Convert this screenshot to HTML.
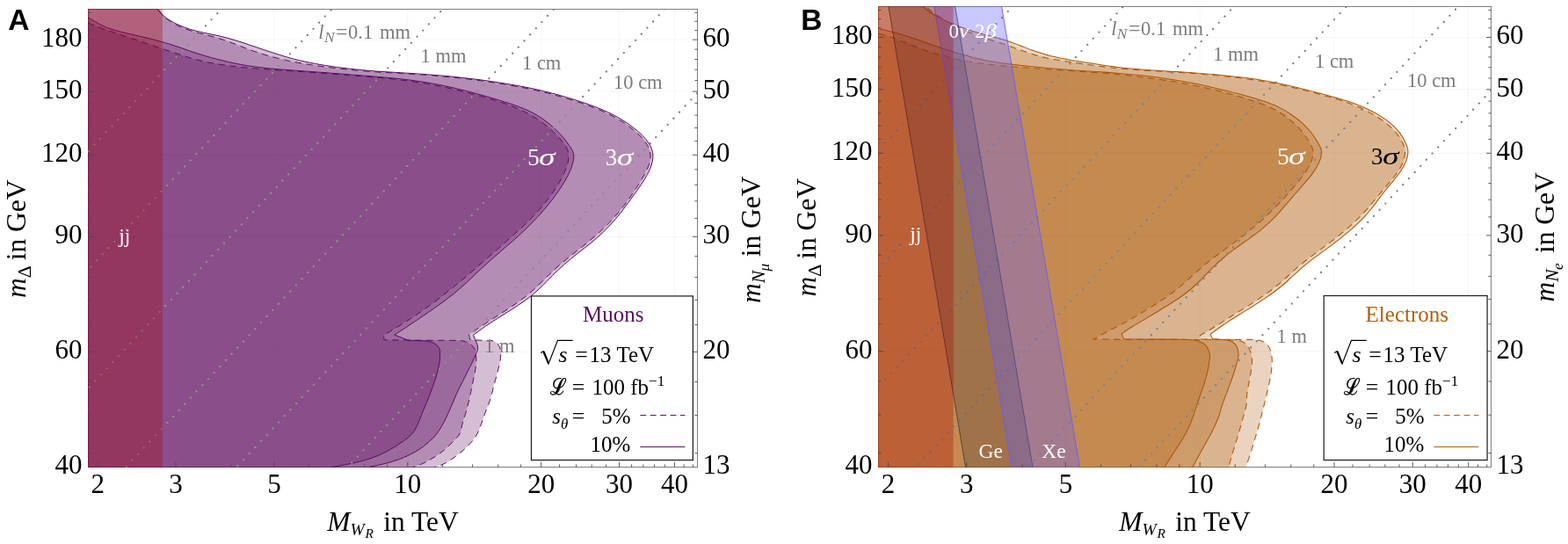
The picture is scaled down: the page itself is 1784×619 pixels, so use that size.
<!DOCTYPE html>
<html lang="en">
<head>
<meta charset="utf-8">
<title>Discovery reach: muons and electrons</title>
<style>
html,body{margin:0;padding:0;background:#fff;}
body{width:1784px;height:619px;overflow:hidden;}
svg{display:block;}
text{font-family:"Liberation Serif","DejaVu Serif",serif;font-size:31px;fill:#000;}
.pl{font-family:"Liberation Sans","DejaVu Sans",sans-serif;font-weight:bold;font-size:33.5px;}
.i{font-style:italic;}
.al{font-size:31.5px;}
.g{fill:#7c7c7c;font-size:22.5px;}
.w{fill:#fff;font-size:27px;}
.ws{fill:#fff;font-size:23.5px;}
.lg{font-size:25px;}
</style>
</head>
<body>
<svg width="1784" height="619" viewBox="0 0 1784 619">
<rect x="0" y="0" width="1784" height="619" fill="#fff"/>
<g id="panelA">
<clipPath id="clipA"><rect x="100" y="10" width="694" height="522"/></clipPath>
<path d="M311.9 10.5V531.5M463.8 10.5V531.5M615.7 10.5V531.5M704.5 10.5V531.5M767.5 10.5V531.5M100.5 400.4H793.5M100.5 269.3H793.5M100.5 176.3H793.5M100.5 104.1H793.5M100.5 45.2H793.5" stroke="#f6f6f6" stroke-width="1" fill="none"/>
<rect x="100.5" y="10.5" width="693" height="521" fill="none" stroke="#808080" stroke-width="1"/>
<g clip-path="url(#clipA)">
<path d="M173 0C175.1 3.7 177.2 7.4 179.8 10.7C182.4 14.2 185.3 17.5 188.6 20.4C192.6 23.8 197.1 26.5 201.8 28.9C206.5 31.4 211.6 33.1 216.6 34.8C221.4 36.4 226.3 37.5 231.2 38.8C236 40.1 240.8 41.2 245.6 42.6C250.5 44 255.4 45.6 260.3 47.4C265.2 49.1 270 51.2 274.9 53C279.8 54.9 284.6 56.8 289.5 58.5C294.3 60.1 299.1 61.7 304 63.1C308.8 64.5 313.7 65.7 318.6 66.9C323.4 68.1 328.3 69.2 333.2 70.1C338 71.1 342.9 72 347.8 72.8C354.9 74 362 75 369.1 76C378.8 77.3 388.6 78.4 398.3 79.4C408 80.4 417.7 81.1 427.4 81.8C437.1 82.5 446.9 82.9 456.6 83.5C466.3 84.1 476 84.7 485.7 85.4C495.4 86.2 505.2 87 514.9 88C524.6 89 534.3 90.1 544 91.4C553.8 92.7 563.5 94.2 573.2 95.8C582.2 97.3 591.1 98.8 600 100.7C606.2 101.9 612.3 103.3 618.3 104.7C628.1 107.1 637.7 109.8 647.3 112.8C657.2 115.8 667 119 676.6 122.8C681.6 124.8 686.5 126.8 691.3 129.2C696.3 131.6 701.1 134.2 705.8 137.1C710.8 140.2 715.7 143.5 720.2 147.3C724.7 151 729.2 154.9 732.7 159.5C734.7 162.2 736.7 164.9 738 168C739 170.5 739.8 173.2 740 176C740.2 178.4 739.9 180.9 739.5 183.3C738.9 186.4 737.6 189.4 736.4 192.3C734.7 196.1 732.6 199.7 730.5 203.3C727.9 207.9 725.1 212.3 722.2 216.6C718.2 222.8 713.9 228.8 709.4 234.6C704.3 241.1 699 247.3 693.3 253.3C688.6 258.1 683.7 262.7 678.7 267.2C673.9 271.4 668.9 275.5 664 279.5C659.2 283.4 654.2 287.1 649.4 291C644.6 294.9 639.7 298.8 635 303C630.1 307.3 625.5 311.9 620.8 316.4C617.4 319.7 614.2 323.1 610.8 326.3C606.3 330.5 601.6 334.6 596.8 338.3C592.1 342 587.2 345.4 582.3 348.7C577.5 352 572.5 355 567.6 358.2C562.8 361.3 557.9 364.4 553 367.6C548.6 370.5 544.3 373.4 539.9 376.3C537.7 377.8 535.6 379.2 533.4 380.7L535 386.8C539.3 386.9 543.7 387.1 548 387.2C550.7 387.3 553.3 387.2 556 387.4C557.4 387.5 558.9 387.4 560.3 387.8C562.4 388.4 564.6 389.4 566.1 391C567.6 392.6 568.4 394.8 569.1 396.9C570.1 400.1 569.7 403.7 569.5 407.1C569.2 412.5 567.4 417.8 566.1 423.1C564.8 428.5 563.2 433.8 561.8 439.1C560.5 444 559.6 448.9 558.1 453.7C556.6 458.6 554.4 463.3 552.6 468.1C550.8 472.9 549.4 477.9 547.5 482.7C545.5 487.7 543.8 492.8 540.9 497.3C538.5 501 535.3 504.3 532.2 507.5C528.6 511.2 524.6 514.5 520.5 517.7C517.2 520.3 513.9 522.8 510.3 524.9C507.5 526.5 504.6 528.1 501.6 529.3C499.2 530.2 496.8 530.9 494.3 531.5L494.3 560L80.5 560L80.5 -9.5L163 -9.5L173 0Z" fill="#550055" fill-opacity="0.255"/>
<path d="M172 0C174.1 3.6 176.2 7.2 178.9 10.5C181.5 13.7 184.4 16.7 187.7 19.3C191.9 22.8 196.9 25.4 201.9 27.8C206.6 30.1 211.6 31.8 216.6 33.4C221.4 34.9 226.3 36 231.2 37.1C236 38.2 240.9 39 245.7 40.1C250.5 41.2 255.4 42.3 260.2 43.6C265.2 45 270.1 46.6 275 48.1C279.8 49.7 284.7 51.4 289.5 53C294.3 54.7 299.1 56.3 304 57.9C308.8 59.5 313.7 61.1 318.6 62.6C323.4 64.1 328.3 65.6 333.2 66.9C338 68.1 342.9 69.3 347.8 70.3C354.8 71.8 362 73.1 369.1 74.3C378.8 75.9 388.5 77.2 398.3 78.3C408 79.4 417.7 80.2 427.4 81C437.1 81.7 446.9 82.2 456.6 82.8C466.3 83.4 476 83.9 485.7 84.7C495.4 85.4 505.2 86.2 514.9 87.2C524.6 88.2 534.3 89.3 544 90.5C553.8 91.8 563.5 93.2 573.2 94.8C582.2 96.3 591.1 97.8 600 99.6C606.2 100.8 612.3 102.1 618.3 103.6C628.1 105.9 637.7 108.5 647.3 111.5C657.2 114.5 667 117.6 676.6 121.3C681.6 123.3 686.5 125.2 691.3 127.5C696.2 129.8 701.1 132.3 705.8 135.1C710.8 138.1 715.7 141.3 720.2 144.9C725.5 149.1 730.8 153.3 734.9 158.6C737.1 161.4 739.3 164.3 740.7 167.6C741.8 170.2 742.7 173.1 742.9 176C743.1 178.4 742.8 180.9 742.4 183.3C741.8 186.6 740.6 189.7 739.3 192.8C737.7 196.6 735.5 200.2 733.5 203.7C730.8 208.2 727.7 212.5 724.8 216.8C721.6 221.4 718.3 225.9 715 230.4C710.1 237 705.2 243.6 699.9 249.8C695.5 254.8 690.9 259.7 686.1 264.3C681.4 268.9 676.3 273.1 671.3 277.3C666.5 281.2 661.5 284.9 656.6 288.8C651.8 292.7 646.9 296.5 642.2 300.6C637.5 304.8 632.9 309.3 628.4 313.7C624.8 317.3 621.5 321.1 617.8 324.6C613.4 328.9 608.8 333.1 604 337C599.4 340.7 594.5 344 589.6 347.3C584.8 350.6 579.8 353.5 574.9 356.7C570 359.8 565.1 362.8 560.3 366C555.4 369.2 550.6 372.4 545.9 375.8C543.4 377.6 540.9 379.5 538.5 381.4L542.1 389.6C542.9 392 543.8 394.4 543.6 396.9C543.4 399.2 542.2 401.3 541.4 403.4C539.4 408.7 536.6 413.6 534.1 418.7C531.7 423.6 529.2 428.4 526.8 433.3C524.4 438.2 521.8 443 519.5 447.9C516.2 455 513.6 462.5 510.3 469.6C508 474.5 505.7 479.4 503 484.1C500.8 487.9 498.5 491.7 495.7 495.1C493.5 497.7 491 500.1 488.5 502.4C484 506.5 479.1 510.1 473.9 513.3C469.3 516.1 464.3 518.5 459.3 520.6C454.5 522.6 449.6 524.2 444.7 525.7C439.9 527.1 435.1 528.2 430.2 529.3C426.8 530.1 423.4 530.8 420 531.5L420 560L80.5 560L80.5 -9.5L162 -9.5L172 0Z" fill="#550055" fill-opacity="0.255"/>
<path d="M80.5 18.1C87 20.8 93.5 23.5 100 26.1C104.9 28 109.8 30 114.7 31.8C119.5 33.5 124.3 35.2 129.1 36.8C133.9 38.4 138.8 39.9 143.6 41.6C148.5 43.2 153.4 44.8 158.3 46.5C163.2 48.2 168 49.9 172.9 51.5C177.7 53.1 182.6 54.8 187.4 56.4C192.2 58 197.1 59.6 202 61.2C206.8 62.8 211.7 64.4 216.6 65.9C221.5 67.3 226.3 68.6 231.2 69.8C236 70.9 240.8 71.8 245.7 72.6C250.5 73.4 255.4 74.1 260.3 74.7C265.2 75.4 270 75.9 274.9 76.4C279.8 77 284.6 77.4 289.5 77.9C294.3 78.3 299.2 78.7 304 79C308.9 79.4 313.7 79.7 318.6 80C325.7 80.5 332.9 80.9 340 81.3C349.7 82 359.4 82.7 369.1 83.4C378.8 84.2 388.6 84.9 398.3 85.7C408 86.5 417.7 87.2 427.4 88.1C437.1 89 446.9 89.8 456.6 91C466.3 92.2 476 93.6 485.7 95.2C495.5 97 505.2 99 514.9 101.2C524.6 103.5 534.4 106 544 108.6C549.4 110.1 554.7 111.6 560.1 113.2C564.9 114.7 569.8 116.1 574.6 117.8C579.5 119.6 584.4 121.4 589.1 123.5C594.1 125.7 599 128.1 603.8 130.8C608.8 133.7 613.7 136.9 618.3 140.4C623.4 144.2 628.2 148.5 632.6 153C636 156.5 639.4 160 642.1 164.1C643.3 165.8 644.5 167.6 645.3 169.6C646.2 171.6 646.7 173.8 647 176C647.2 179 646.7 181.9 646.2 184.8C645.4 188.6 643.8 192.2 642.4 195.7C640.5 200 638.3 204.1 635.9 208.2C633.6 212.2 631.2 216 628.5 219.8C625.8 223.8 622.9 227.7 619.8 231.4C617 234.9 614 238.3 611 241.6C607 245.9 602.8 249.9 598.6 254C593.8 258.7 588.8 263.2 583.8 267.7C579 272.1 574.2 276.3 569.4 280.6C564.5 284.9 559.7 289.1 554.8 293.4C549.9 297.7 545 302 540.1 306.3C535.3 310.5 530.5 314.7 525.6 318.8C522.6 321.2 519.7 323.7 516.7 326.1C511.8 330 506.9 333.9 502 337.7C497.2 341.4 492.3 345.1 487.4 348.6C482.6 352.1 477.8 355.5 472.9 358.8C468.1 362 463.2 365.2 458.3 368.2C453.5 371.2 448.6 374.2 443.7 377.1C441.3 378.5 438.8 380 436.4 381.4L437.2 386.8C448.1 386.9 459.1 387 470 387.1C480 387.2 490 387.2 500 387.3C506 387.3 512 387.2 518 387.4C520.9 387.5 523.9 387.2 526.8 387.9C529.9 388.6 533 389.8 535.5 391.8C537.2 393.2 538.9 394.9 539.9 396.9C540.8 398.7 541 400.7 541.4 402.7C542.4 407.9 541.6 413.4 541.1 418.7C540.5 424.6 538.9 430.4 537.7 436.2C536.5 442 535.4 447.9 534.1 453.7C532.9 459 531.5 464.3 530 469.6C528.6 474.5 526.7 479.2 525.6 484.1C525 486.5 525.1 489.1 524.2 491.4C522.5 496.1 518.1 499.4 514.7 503.1C511.1 507 507.2 510.7 503 514C498.5 517.6 493.5 520.7 488.5 523.5C485.2 525.4 481.8 527.2 478.3 528.6C475.4 529.8 472.5 530.6 469.5 531.5L469.5 560L80.5 560L80.5 18.1Z" fill="#550055" fill-opacity="0.255"/>
<path d="M80.5 11.6C87.2 13.9 93.8 16.2 100 19.6C102.5 21 104.8 22.6 107.2 24C109.7 25.5 112.1 26.9 114.7 28.2C117 29.4 119.4 30.5 121.9 31.5C124.2 32.4 126.7 33.2 129.1 33.9C133.9 35.4 138.8 36.5 143.7 37.7C148.6 38.9 153.4 40 158.3 41.1C163.2 42.3 168.1 43.4 172.9 44.6C177.7 45.8 182.6 47.1 187.4 48.5C192.3 49.9 197.1 51.5 202 53.1C206.9 54.8 211.7 56.5 216.6 58.2C221.5 59.8 226.3 61.4 231.2 62.9C236 64.4 240.8 65.7 245.7 67C250.5 68.3 255.4 69.5 260.3 70.6C265.1 71.7 270 72.7 274.9 73.6C279.7 74.5 284.6 75.3 289.5 75.9C294.3 76.6 299.2 77.2 304 77.7C308.9 78.2 313.7 78.5 318.6 78.9C325.7 79.5 332.9 79.9 340 80.5C349.7 81.2 359.4 81.9 369.1 82.6C378.8 83.4 388.6 84.2 398.3 84.9C408 85.7 417.7 86.4 427.4 87.2C437.1 88 446.9 88.8 456.6 89.9C466.3 91 476 92.3 485.7 93.9C495.5 95.5 505.2 97.5 514.9 99.7C524.6 101.9 534.3 104.4 544 107.1C549.3 108.5 554.7 110.1 560.1 111.7C564.9 113.1 569.8 114.6 574.6 116.1C579.5 117.6 584.3 119.1 589.1 120.9C594.1 122.8 599 124.8 603.8 127.2C608.8 129.7 613.6 132.6 618.2 135.8C623.4 139.4 628.2 143.5 632.7 147.8C635.9 150.9 639 154.2 641.8 157.7C643.9 160.2 645.8 162.7 647.6 165.4C649.1 167.7 650.9 169.9 651.8 172.5C652.2 173.9 652.6 175.4 652.8 176.8C653.1 179.5 652.4 182.2 651.9 184.8C651.2 187.8 650.1 190.7 649 193.5C647.4 197.6 645.3 201.4 643.1 205.2C640.9 209.2 638.4 213 635.8 216.8C633.1 220.8 630.1 224.8 627.2 228.6C624.3 232.3 621.3 235.9 618.3 239.4C614.2 244.1 610 248.7 605.6 253.1C601 258 596.2 262.6 591.2 267.1C586.4 271.6 581.5 275.8 576.5 280.1C571.7 284.3 566.8 288.4 562 292.6C557.2 296.8 552.5 301.1 547.8 305.4C542.1 310.7 536.6 316.2 530.9 321.4C526.2 325.7 521.5 329.9 516.6 333.9C511.8 337.8 507 341.4 502 345.1C497.3 348.6 492.4 351.9 487.5 355.3C482.6 358.7 477.8 362 472.8 365.3C468 368.6 463.2 371.8 458.3 374.9C455.1 377 452 379 448.8 381L461 385.8C462 386.2 463 386.6 464.1 386.8C465.4 387.1 466.7 387.2 468 387.3C471.3 387.6 474.7 387.5 478 387.7C481.1 387.9 484.3 387.6 487.4 388.3C489.9 388.9 492.5 389.6 494.7 391C496.5 392.2 498.3 393.6 499.4 395.4C500.9 397.9 500.5 401.2 500.6 404.1C500.8 408.5 499.9 412.9 499.1 417.3C498.1 422.7 496.4 428 494.7 433.3C493 438.7 490.9 444 488.9 449.3C486.5 455.6 483.8 461.8 481.2 468.1C479.2 473 477.6 478 475.3 482.7C473.6 486.2 472 489.9 469.5 492.9C466.7 496.4 462.9 498.9 459.3 501.6C454.7 505.1 449.7 508.2 444.7 511.1C440 513.8 435.2 516.3 430.2 518.4C425.5 520.4 420.5 522 415.6 523.5C410.8 524.9 405.9 526 401 527.1C396.2 528.2 391.3 529.2 386.4 530.1C383.5 530.6 380.6 531.1 377.7 531.5L377.7 560L80.5 560L80.5 11.6Z" fill="#550055" fill-opacity="0.255"/>
<path d="M173 0C175.1 3.7 177.2 7.4 179.8 10.7C182.4 14.2 185.3 17.5 188.6 20.4C192.6 23.8 197.1 26.5 201.8 28.9C206.5 31.4 211.6 33.1 216.6 34.8C221.4 36.4 226.3 37.5 231.2 38.8C236 40.1 240.8 41.2 245.6 42.6C250.5 44 255.4 45.6 260.3 47.4C265.2 49.1 270 51.2 274.9 53C279.8 54.9 284.6 56.8 289.5 58.5C294.3 60.1 299.1 61.7 304 63.1C308.8 64.5 313.7 65.7 318.6 66.9C323.4 68.1 328.3 69.2 333.2 70.1C338 71.1 342.9 72 347.8 72.8C354.9 74 362 75 369.1 76C378.8 77.3 388.6 78.4 398.3 79.4C408 80.4 417.7 81.1 427.4 81.8C437.1 82.5 446.9 82.9 456.6 83.5C466.3 84.1 476 84.7 485.7 85.4C495.4 86.2 505.2 87 514.9 88C524.6 89 534.3 90.1 544 91.4C553.8 92.7 563.5 94.2 573.2 95.8C582.2 97.3 591.1 98.8 600 100.7C606.2 101.9 612.3 103.3 618.3 104.7C628.1 107.1 637.7 109.8 647.3 112.8C657.2 115.8 667 119 676.6 122.8C681.6 124.8 686.5 126.8 691.3 129.2C696.3 131.6 701.1 134.2 705.8 137.1C710.8 140.2 715.7 143.5 720.2 147.3C724.7 151 729.2 154.9 732.7 159.5C734.7 162.2 736.7 164.9 738 168C739 170.5 739.8 173.2 740 176C740.2 178.4 739.9 180.9 739.5 183.3C738.9 186.4 737.6 189.4 736.4 192.3C734.7 196.1 732.6 199.7 730.5 203.3C727.9 207.9 725.1 212.3 722.2 216.6C718.2 222.8 713.9 228.8 709.4 234.6C704.3 241.1 699 247.3 693.3 253.3C688.6 258.1 683.7 262.7 678.7 267.2C673.9 271.4 668.9 275.5 664 279.5C659.2 283.4 654.2 287.1 649.4 291C644.6 294.9 639.7 298.8 635 303C630.1 307.3 625.5 311.9 620.8 316.4C617.4 319.7 614.2 323.1 610.8 326.3C606.3 330.5 601.6 334.6 596.8 338.3C592.1 342 587.2 345.4 582.3 348.7C577.5 352 572.5 355 567.6 358.2C562.8 361.3 557.9 364.4 553 367.6C548.6 370.5 544.3 373.4 539.9 376.3C537.7 377.8 535.6 379.2 533.4 380.7L535 386.8C539.3 386.9 543.7 387.1 548 387.2C550.7 387.3 553.3 387.2 556 387.4C557.4 387.5 558.9 387.4 560.3 387.8C562.4 388.4 564.6 389.4 566.1 391C567.6 392.6 568.4 394.8 569.1 396.9C570.1 400.1 569.7 403.7 569.5 407.1C569.2 412.5 567.4 417.8 566.1 423.1C564.8 428.5 563.2 433.8 561.8 439.1C560.5 444 559.6 448.9 558.1 453.7C556.6 458.6 554.4 463.3 552.6 468.1C550.8 472.9 549.4 477.9 547.5 482.7C545.5 487.7 543.8 492.8 540.9 497.3C538.5 501 535.3 504.3 532.2 507.5C528.6 511.2 524.6 514.5 520.5 517.7C517.2 520.3 513.9 522.8 510.3 524.9C507.5 526.5 504.6 528.1 501.6 529.3C499.2 530.2 496.8 530.9 494.3 531.5" fill="none" stroke="#5a0c62" stroke-width="1.0" stroke-dasharray="7.5 5.5"/>
<path d="M172 0C174.1 3.6 176.2 7.2 178.9 10.5C181.5 13.7 184.4 16.7 187.7 19.3C191.9 22.8 196.9 25.4 201.9 27.8C206.6 30.1 211.6 31.8 216.6 33.4C221.4 34.9 226.3 36 231.2 37.1C236 38.2 240.9 39 245.7 40.1C250.5 41.2 255.4 42.3 260.2 43.6C265.2 45 270.1 46.6 275 48.1C279.8 49.7 284.7 51.4 289.5 53C294.3 54.7 299.1 56.3 304 57.9C308.8 59.5 313.7 61.1 318.6 62.6C323.4 64.1 328.3 65.6 333.2 66.9C338 68.1 342.9 69.3 347.8 70.3C354.8 71.8 362 73.1 369.1 74.3C378.8 75.9 388.5 77.2 398.3 78.3C408 79.4 417.7 80.2 427.4 81C437.1 81.7 446.9 82.2 456.6 82.8C466.3 83.4 476 83.9 485.7 84.7C495.4 85.4 505.2 86.2 514.9 87.2C524.6 88.2 534.3 89.3 544 90.5C553.8 91.8 563.5 93.2 573.2 94.8C582.2 96.3 591.1 97.8 600 99.6C606.2 100.8 612.3 102.1 618.3 103.6C628.1 105.9 637.7 108.5 647.3 111.5C657.2 114.5 667 117.6 676.6 121.3C681.6 123.3 686.5 125.2 691.3 127.5C696.2 129.8 701.1 132.3 705.8 135.1C710.8 138.1 715.7 141.3 720.2 144.9C725.5 149.1 730.8 153.3 734.9 158.6C737.1 161.4 739.3 164.3 740.7 167.6C741.8 170.2 742.7 173.1 742.9 176C743.1 178.4 742.8 180.9 742.4 183.3C741.8 186.6 740.6 189.7 739.3 192.8C737.7 196.6 735.5 200.2 733.5 203.7C730.8 208.2 727.7 212.5 724.8 216.8C721.6 221.4 718.3 225.9 715 230.4C710.1 237 705.2 243.6 699.9 249.8C695.5 254.8 690.9 259.7 686.1 264.3C681.4 268.9 676.3 273.1 671.3 277.3C666.5 281.2 661.5 284.9 656.6 288.8C651.8 292.7 646.9 296.5 642.2 300.6C637.5 304.8 632.9 309.3 628.4 313.7C624.8 317.3 621.5 321.1 617.8 324.6C613.4 328.9 608.8 333.1 604 337C599.4 340.7 594.5 344 589.6 347.3C584.8 350.6 579.8 353.5 574.9 356.7C570 359.8 565.1 362.8 560.3 366C555.4 369.2 550.6 372.4 545.9 375.8C543.4 377.6 540.9 379.5 538.5 381.4L542.1 389.6C542.9 392 543.8 394.4 543.6 396.9C543.4 399.2 542.2 401.3 541.4 403.4C539.4 408.7 536.6 413.6 534.1 418.7C531.7 423.6 529.2 428.4 526.8 433.3C524.4 438.2 521.8 443 519.5 447.9C516.2 455 513.6 462.5 510.3 469.6C508 474.5 505.7 479.4 503 484.1C500.8 487.9 498.5 491.7 495.7 495.1C493.5 497.7 491 500.1 488.5 502.4C484 506.5 479.1 510.1 473.9 513.3C469.3 516.1 464.3 518.5 459.3 520.6C454.5 522.6 449.6 524.2 444.7 525.7C439.9 527.1 435.1 528.2 430.2 529.3C426.8 530.1 423.4 530.8 420 531.5" fill="none" stroke="#5a0c62" stroke-width="1.0"/>
<path d="M100 26.1C104.9 28 109.8 30 114.7 31.8C119.5 33.5 124.3 35.2 129.1 36.8C133.9 38.4 138.8 39.9 143.6 41.6C148.5 43.2 153.4 44.8 158.3 46.5C163.2 48.2 168 49.9 172.9 51.5C177.7 53.1 182.6 54.8 187.4 56.4C192.2 58 197.1 59.6 202 61.2C206.8 62.8 211.7 64.4 216.6 65.9C221.5 67.3 226.3 68.6 231.2 69.8C236 70.9 240.8 71.8 245.7 72.6C250.5 73.4 255.4 74.1 260.3 74.7C265.2 75.4 270 75.9 274.9 76.4C279.8 77 284.6 77.4 289.5 77.9C294.3 78.3 299.2 78.7 304 79C308.9 79.4 313.7 79.7 318.6 80C325.7 80.5 332.9 80.9 340 81.3C349.7 82 359.4 82.7 369.1 83.4C378.8 84.2 388.6 84.9 398.3 85.7C408 86.5 417.7 87.2 427.4 88.1C437.1 89 446.9 89.8 456.6 91C466.3 92.2 476 93.6 485.7 95.2C495.5 97 505.2 99 514.9 101.2C524.6 103.5 534.4 106 544 108.6C549.4 110.1 554.7 111.6 560.1 113.2C564.9 114.7 569.8 116.1 574.6 117.8C579.5 119.6 584.4 121.4 589.1 123.5C594.1 125.7 599 128.1 603.8 130.8C608.8 133.7 613.7 136.9 618.3 140.4C623.4 144.2 628.2 148.5 632.6 153C636 156.5 639.4 160 642.1 164.1C643.3 165.8 644.5 167.6 645.3 169.6C646.2 171.6 646.7 173.8 647 176C647.2 179 646.7 181.9 646.2 184.8C645.4 188.6 643.8 192.2 642.4 195.7C640.5 200 638.3 204.1 635.9 208.2C633.6 212.2 631.2 216 628.5 219.8C625.8 223.8 622.9 227.7 619.8 231.4C617 234.9 614 238.3 611 241.6C607 245.9 602.8 249.9 598.6 254C593.8 258.7 588.8 263.2 583.8 267.7C579 272.1 574.2 276.3 569.4 280.6C564.5 284.9 559.7 289.1 554.8 293.4C549.9 297.7 545 302 540.1 306.3C535.3 310.5 530.5 314.7 525.6 318.8C522.6 321.2 519.7 323.7 516.7 326.1C511.8 330 506.9 333.9 502 337.7C497.2 341.4 492.3 345.1 487.4 348.6C482.6 352.1 477.8 355.5 472.9 358.8C468.1 362 463.2 365.2 458.3 368.2C453.5 371.2 448.6 374.2 443.7 377.1C441.3 378.5 438.8 380 436.4 381.4L437.2 386.8C448.1 386.9 459.1 387 470 387.1C480 387.2 490 387.2 500 387.3C506 387.3 512 387.2 518 387.4C520.9 387.5 523.9 387.2 526.8 387.9C529.9 388.6 533 389.8 535.5 391.8C537.2 393.2 538.9 394.9 539.9 396.9C540.8 398.7 541 400.7 541.4 402.7C542.4 407.9 541.6 413.4 541.1 418.7C540.5 424.6 538.9 430.4 537.7 436.2C536.5 442 535.4 447.9 534.1 453.7C532.9 459 531.5 464.3 530 469.6C528.6 474.5 526.7 479.2 525.6 484.1C525 486.5 525.1 489.1 524.2 491.4C522.5 496.1 518.1 499.4 514.7 503.1C511.1 507 507.2 510.7 503 514C498.5 517.6 493.5 520.7 488.5 523.5C485.2 525.4 481.8 527.2 478.3 528.6C475.4 529.8 472.5 530.6 469.5 531.5" fill="none" stroke="#5a0c62" stroke-width="1.0" stroke-dasharray="7.5 5.5"/>
<path d="M100 19.6C102.4 21.1 104.8 22.6 107.2 24C109.7 25.5 112.1 26.9 114.7 28.2C117 29.4 119.4 30.5 121.9 31.5C124.2 32.4 126.7 33.2 129.1 33.9C133.9 35.4 138.8 36.5 143.7 37.7C148.6 38.9 153.4 40 158.3 41.1C163.2 42.3 168.1 43.4 172.9 44.6C177.7 45.8 182.6 47.1 187.4 48.5C192.3 49.9 197.1 51.5 202 53.1C206.9 54.8 211.7 56.5 216.6 58.2C221.5 59.8 226.3 61.4 231.2 62.9C236 64.4 240.8 65.7 245.7 67C250.5 68.3 255.4 69.5 260.3 70.6C265.1 71.7 270 72.7 274.9 73.6C279.7 74.5 284.6 75.3 289.5 75.9C294.3 76.6 299.2 77.2 304 77.7C308.9 78.2 313.7 78.5 318.6 78.9C325.7 79.5 332.9 79.9 340 80.5C349.7 81.2 359.4 81.9 369.1 82.6C378.8 83.4 388.6 84.2 398.3 84.9C408 85.7 417.7 86.4 427.4 87.2C437.1 88 446.9 88.8 456.6 89.9C466.3 91 476 92.3 485.7 93.9C495.5 95.5 505.2 97.5 514.9 99.7C524.6 101.9 534.3 104.4 544 107.1C549.3 108.5 554.7 110.1 560.1 111.7C564.9 113.1 569.8 114.6 574.6 116.1C579.5 117.6 584.3 119.1 589.1 120.9C594.1 122.8 599 124.8 603.8 127.2C608.8 129.7 613.6 132.6 618.2 135.8C623.4 139.4 628.2 143.5 632.7 147.8C635.9 150.9 639 154.2 641.8 157.7C643.9 160.2 645.8 162.7 647.6 165.4C649.1 167.7 650.9 169.9 651.8 172.5C652.2 173.9 652.6 175.4 652.8 176.8C653.1 179.5 652.4 182.2 651.9 184.8C651.2 187.8 650.1 190.7 649 193.5C647.4 197.6 645.3 201.4 643.1 205.2C640.9 209.2 638.4 213 635.8 216.8C633.1 220.8 630.1 224.8 627.2 228.6C624.3 232.3 621.3 235.9 618.3 239.4C614.2 244.1 610 248.7 605.6 253.1C601 258 596.2 262.6 591.2 267.1C586.4 271.6 581.5 275.8 576.5 280.1C571.7 284.3 566.8 288.4 562 292.6C557.2 296.8 552.5 301.1 547.8 305.4C542.1 310.7 536.6 316.2 530.9 321.4C526.2 325.7 521.5 329.9 516.6 333.9C511.8 337.8 507 341.4 502 345.1C497.3 348.6 492.4 351.9 487.5 355.3C482.6 358.7 477.8 362 472.8 365.3C468 368.6 463.2 371.8 458.3 374.9C455.1 377 452 379 448.8 381L461 385.8C462 386.2 463 386.6 464.1 386.8C465.4 387.1 466.7 387.2 468 387.3C471.3 387.6 474.7 387.5 478 387.7C481.1 387.9 484.3 387.6 487.4 388.3C489.9 388.9 492.5 389.6 494.7 391C496.5 392.2 498.3 393.6 499.4 395.4C500.9 397.9 500.5 401.2 500.6 404.1C500.8 408.5 499.9 412.9 499.1 417.3C498.1 422.7 496.4 428 494.7 433.3C493 438.7 490.9 444 488.9 449.3C486.5 455.6 483.8 461.8 481.2 468.1C479.2 473 477.6 478 475.3 482.7C473.6 486.2 472 489.9 469.5 492.9C466.7 496.4 462.9 498.9 459.3 501.6C454.7 505.1 449.7 508.2 444.7 511.1C440 513.8 435.2 516.3 430.2 518.4C425.5 520.4 420.5 522 415.6 523.5C410.8 524.9 405.9 526 401 527.1C396.2 528.2 391.3 529.2 386.4 530.1C383.5 530.6 380.6 531.1 377.7 531.5" fill="none" stroke="#5a0c62" stroke-width="1.0"/>
<path d="M267.27 -6.17L87.52 186.16M389.81 -2.75L83.58 324.93M521.17 -8.17L88.44 454.85M643.10 -3.36L130.49 545.14M769.75 -4.00L257.13 544.50M806.27 92.03L380.20 547.92" stroke="#7a7a7a" stroke-width="2.3" stroke-linecap="round" stroke-dasharray="0 9.75" fill="none"/>
<clipPath id="regA"><path d="M173 0C175.1 3.7 177.2 7.4 179.8 10.7C182.4 14.2 185.3 17.5 188.6 20.4C192.6 23.8 197.1 26.5 201.8 28.9C206.5 31.4 211.6 33.1 216.6 34.8C221.4 36.4 226.3 37.5 231.2 38.8C236 40.1 240.8 41.2 245.6 42.6C250.5 44 255.4 45.6 260.3 47.4C265.2 49.1 270 51.2 274.9 53C279.8 54.9 284.6 56.8 289.5 58.5C294.3 60.1 299.1 61.7 304 63.1C308.8 64.5 313.7 65.7 318.6 66.9C323.4 68.1 328.3 69.2 333.2 70.1C338 71.1 342.9 72 347.8 72.8C354.9 74 362 75 369.1 76C378.8 77.3 388.6 78.4 398.3 79.4C408 80.4 417.7 81.1 427.4 81.8C437.1 82.5 446.9 82.9 456.6 83.5C466.3 84.1 476 84.7 485.7 85.4C495.4 86.2 505.2 87 514.9 88C524.6 89 534.3 90.1 544 91.4C553.8 92.7 563.5 94.2 573.2 95.8C582.2 97.3 591.1 98.8 600 100.7C606.2 101.9 612.3 103.3 618.3 104.7C628.1 107.1 637.7 109.8 647.3 112.8C657.2 115.8 667 119 676.6 122.8C681.6 124.8 686.5 126.8 691.3 129.2C696.3 131.6 701.1 134.2 705.8 137.1C710.8 140.2 715.7 143.5 720.2 147.3C724.7 151 729.2 154.9 732.7 159.5C734.7 162.2 736.7 164.9 738 168C739 170.5 739.8 173.2 740 176C740.2 178.4 739.9 180.9 739.5 183.3C738.9 186.4 737.6 189.4 736.4 192.3C734.7 196.1 732.6 199.7 730.5 203.3C727.9 207.9 725.1 212.3 722.2 216.6C718.2 222.8 713.9 228.8 709.4 234.6C704.3 241.1 699 247.3 693.3 253.3C688.6 258.1 683.7 262.7 678.7 267.2C673.9 271.4 668.9 275.5 664 279.5C659.2 283.4 654.2 287.1 649.4 291C644.6 294.9 639.7 298.8 635 303C630.1 307.3 625.5 311.9 620.8 316.4C617.4 319.7 614.2 323.1 610.8 326.3C606.3 330.5 601.6 334.6 596.8 338.3C592.1 342 587.2 345.4 582.3 348.7C577.5 352 572.5 355 567.6 358.2C562.8 361.3 557.9 364.4 553 367.6C548.6 370.5 544.3 373.4 539.9 376.3C537.7 377.8 535.6 379.2 533.4 380.7L535 386.8C539.3 386.9 543.7 387.1 548 387.2C550.7 387.3 553.3 387.2 556 387.4C557.4 387.5 558.9 387.4 560.3 387.8C562.4 388.4 564.6 389.4 566.1 391C567.6 392.6 568.4 394.8 569.1 396.9C570.1 400.1 569.7 403.7 569.5 407.1C569.2 412.5 567.4 417.8 566.1 423.1C564.8 428.5 563.2 433.8 561.8 439.1C560.5 444 559.6 448.9 558.1 453.7C556.6 458.6 554.4 463.3 552.6 468.1C550.8 472.9 549.4 477.9 547.5 482.7C545.5 487.7 543.8 492.8 540.9 497.3C538.5 501 535.3 504.3 532.2 507.5C528.6 511.2 524.6 514.5 520.5 517.7C517.2 520.3 513.9 522.8 510.3 524.9C507.5 526.5 504.6 528.1 501.6 529.3C499.2 530.2 496.8 530.9 494.3 531.5L494.3 560L80.5 560L80.5 -9.5L163 -9.5L173 0Z"/><path d="M172 0C174.1 3.6 176.2 7.2 178.9 10.5C181.5 13.7 184.4 16.7 187.7 19.3C191.9 22.8 196.9 25.4 201.9 27.8C206.6 30.1 211.6 31.8 216.6 33.4C221.4 34.9 226.3 36 231.2 37.1C236 38.2 240.9 39 245.7 40.1C250.5 41.2 255.4 42.3 260.2 43.6C265.2 45 270.1 46.6 275 48.1C279.8 49.7 284.7 51.4 289.5 53C294.3 54.7 299.1 56.3 304 57.9C308.8 59.5 313.7 61.1 318.6 62.6C323.4 64.1 328.3 65.6 333.2 66.9C338 68.1 342.9 69.3 347.8 70.3C354.8 71.8 362 73.1 369.1 74.3C378.8 75.9 388.5 77.2 398.3 78.3C408 79.4 417.7 80.2 427.4 81C437.1 81.7 446.9 82.2 456.6 82.8C466.3 83.4 476 83.9 485.7 84.7C495.4 85.4 505.2 86.2 514.9 87.2C524.6 88.2 534.3 89.3 544 90.5C553.8 91.8 563.5 93.2 573.2 94.8C582.2 96.3 591.1 97.8 600 99.6C606.2 100.8 612.3 102.1 618.3 103.6C628.1 105.9 637.7 108.5 647.3 111.5C657.2 114.5 667 117.6 676.6 121.3C681.6 123.3 686.5 125.2 691.3 127.5C696.2 129.8 701.1 132.3 705.8 135.1C710.8 138.1 715.7 141.3 720.2 144.9C725.5 149.1 730.8 153.3 734.9 158.6C737.1 161.4 739.3 164.3 740.7 167.6C741.8 170.2 742.7 173.1 742.9 176C743.1 178.4 742.8 180.9 742.4 183.3C741.8 186.6 740.6 189.7 739.3 192.8C737.7 196.6 735.5 200.2 733.5 203.7C730.8 208.2 727.7 212.5 724.8 216.8C721.6 221.4 718.3 225.9 715 230.4C710.1 237 705.2 243.6 699.9 249.8C695.5 254.8 690.9 259.7 686.1 264.3C681.4 268.9 676.3 273.1 671.3 277.3C666.5 281.2 661.5 284.9 656.6 288.8C651.8 292.7 646.9 296.5 642.2 300.6C637.5 304.8 632.9 309.3 628.4 313.7C624.8 317.3 621.5 321.1 617.8 324.6C613.4 328.9 608.8 333.1 604 337C599.4 340.7 594.5 344 589.6 347.3C584.8 350.6 579.8 353.5 574.9 356.7C570 359.8 565.1 362.8 560.3 366C555.4 369.2 550.6 372.4 545.9 375.8C543.4 377.6 540.9 379.5 538.5 381.4L542.1 389.6C542.9 392 543.8 394.4 543.6 396.9C543.4 399.2 542.2 401.3 541.4 403.4C539.4 408.7 536.6 413.6 534.1 418.7C531.7 423.6 529.2 428.4 526.8 433.3C524.4 438.2 521.8 443 519.5 447.9C516.2 455 513.6 462.5 510.3 469.6C508 474.5 505.7 479.4 503 484.1C500.8 487.9 498.5 491.7 495.7 495.1C493.5 497.7 491 500.1 488.5 502.4C484 506.5 479.1 510.1 473.9 513.3C469.3 516.1 464.3 518.5 459.3 520.6C454.5 522.6 449.6 524.2 444.7 525.7C439.9 527.1 435.1 528.2 430.2 529.3C426.8 530.1 423.4 530.8 420 531.5L420 560L80.5 560L80.5 -9.5L162 -9.5L172 0Z"/><path d="M80.5 18.1C87 20.8 93.5 23.5 100 26.1C104.9 28 109.8 30 114.7 31.8C119.5 33.5 124.3 35.2 129.1 36.8C133.9 38.4 138.8 39.9 143.6 41.6C148.5 43.2 153.4 44.8 158.3 46.5C163.2 48.2 168 49.9 172.9 51.5C177.7 53.1 182.6 54.8 187.4 56.4C192.2 58 197.1 59.6 202 61.2C206.8 62.8 211.7 64.4 216.6 65.9C221.5 67.3 226.3 68.6 231.2 69.8C236 70.9 240.8 71.8 245.7 72.6C250.5 73.4 255.4 74.1 260.3 74.7C265.2 75.4 270 75.9 274.9 76.4C279.8 77 284.6 77.4 289.5 77.9C294.3 78.3 299.2 78.7 304 79C308.9 79.4 313.7 79.7 318.6 80C325.7 80.5 332.9 80.9 340 81.3C349.7 82 359.4 82.7 369.1 83.4C378.8 84.2 388.6 84.9 398.3 85.7C408 86.5 417.7 87.2 427.4 88.1C437.1 89 446.9 89.8 456.6 91C466.3 92.2 476 93.6 485.7 95.2C495.5 97 505.2 99 514.9 101.2C524.6 103.5 534.4 106 544 108.6C549.4 110.1 554.7 111.6 560.1 113.2C564.9 114.7 569.8 116.1 574.6 117.8C579.5 119.6 584.4 121.4 589.1 123.5C594.1 125.7 599 128.1 603.8 130.8C608.8 133.7 613.7 136.9 618.3 140.4C623.4 144.2 628.2 148.5 632.6 153C636 156.5 639.4 160 642.1 164.1C643.3 165.8 644.5 167.6 645.3 169.6C646.2 171.6 646.7 173.8 647 176C647.2 179 646.7 181.9 646.2 184.8C645.4 188.6 643.8 192.2 642.4 195.7C640.5 200 638.3 204.1 635.9 208.2C633.6 212.2 631.2 216 628.5 219.8C625.8 223.8 622.9 227.7 619.8 231.4C617 234.9 614 238.3 611 241.6C607 245.9 602.8 249.9 598.6 254C593.8 258.7 588.8 263.2 583.8 267.7C579 272.1 574.2 276.3 569.4 280.6C564.5 284.9 559.7 289.1 554.8 293.4C549.9 297.7 545 302 540.1 306.3C535.3 310.5 530.5 314.7 525.6 318.8C522.6 321.2 519.7 323.7 516.7 326.1C511.8 330 506.9 333.9 502 337.7C497.2 341.4 492.3 345.1 487.4 348.6C482.6 352.1 477.8 355.5 472.9 358.8C468.1 362 463.2 365.2 458.3 368.2C453.5 371.2 448.6 374.2 443.7 377.1C441.3 378.5 438.8 380 436.4 381.4L437.2 386.8C448.1 386.9 459.1 387 470 387.1C480 387.2 490 387.2 500 387.3C506 387.3 512 387.2 518 387.4C520.9 387.5 523.9 387.2 526.8 387.9C529.9 388.6 533 389.8 535.5 391.8C537.2 393.2 538.9 394.9 539.9 396.9C540.8 398.7 541 400.7 541.4 402.7C542.4 407.9 541.6 413.4 541.1 418.7C540.5 424.6 538.9 430.4 537.7 436.2C536.5 442 535.4 447.9 534.1 453.7C532.9 459 531.5 464.3 530 469.6C528.6 474.5 526.7 479.2 525.6 484.1C525 486.5 525.1 489.1 524.2 491.4C522.5 496.1 518.1 499.4 514.7 503.1C511.1 507 507.2 510.7 503 514C498.5 517.6 493.5 520.7 488.5 523.5C485.2 525.4 481.8 527.2 478.3 528.6C475.4 529.8 472.5 530.6 469.5 531.5L469.5 560L80.5 560L80.5 18.1Z"/><path d="M80.5 11.6C87.2 13.9 93.8 16.2 100 19.6C102.5 21 104.8 22.6 107.2 24C109.7 25.5 112.1 26.9 114.7 28.2C117 29.4 119.4 30.5 121.9 31.5C124.2 32.4 126.7 33.2 129.1 33.9C133.9 35.4 138.8 36.5 143.7 37.7C148.6 38.9 153.4 40 158.3 41.1C163.2 42.3 168.1 43.4 172.9 44.6C177.7 45.8 182.6 47.1 187.4 48.5C192.3 49.9 197.1 51.5 202 53.1C206.9 54.8 211.7 56.5 216.6 58.2C221.5 59.8 226.3 61.4 231.2 62.9C236 64.4 240.8 65.7 245.7 67C250.5 68.3 255.4 69.5 260.3 70.6C265.1 71.7 270 72.7 274.9 73.6C279.7 74.5 284.6 75.3 289.5 75.9C294.3 76.6 299.2 77.2 304 77.7C308.9 78.2 313.7 78.5 318.6 78.9C325.7 79.5 332.9 79.9 340 80.5C349.7 81.2 359.4 81.9 369.1 82.6C378.8 83.4 388.6 84.2 398.3 84.9C408 85.7 417.7 86.4 427.4 87.2C437.1 88 446.9 88.8 456.6 89.9C466.3 91 476 92.3 485.7 93.9C495.5 95.5 505.2 97.5 514.9 99.7C524.6 101.9 534.3 104.4 544 107.1C549.3 108.5 554.7 110.1 560.1 111.7C564.9 113.1 569.8 114.6 574.6 116.1C579.5 117.6 584.3 119.1 589.1 120.9C594.1 122.8 599 124.8 603.8 127.2C608.8 129.7 613.6 132.6 618.2 135.8C623.4 139.4 628.2 143.5 632.7 147.8C635.9 150.9 639 154.2 641.8 157.7C643.9 160.2 645.8 162.7 647.6 165.4C649.1 167.7 650.9 169.9 651.8 172.5C652.2 173.9 652.6 175.4 652.8 176.8C653.1 179.5 652.4 182.2 651.9 184.8C651.2 187.8 650.1 190.7 649 193.5C647.4 197.6 645.3 201.4 643.1 205.2C640.9 209.2 638.4 213 635.8 216.8C633.1 220.8 630.1 224.8 627.2 228.6C624.3 232.3 621.3 235.9 618.3 239.4C614.2 244.1 610 248.7 605.6 253.1C601 258 596.2 262.6 591.2 267.1C586.4 271.6 581.5 275.8 576.5 280.1C571.7 284.3 566.8 288.4 562 292.6C557.2 296.8 552.5 301.1 547.8 305.4C542.1 310.7 536.6 316.2 530.9 321.4C526.2 325.7 521.5 329.9 516.6 333.9C511.8 337.8 507 341.4 502 345.1C497.3 348.6 492.4 351.9 487.5 355.3C482.6 358.7 477.8 362 472.8 365.3C468 368.6 463.2 371.8 458.3 374.9C455.1 377 452 379 448.8 381L461 385.8C462 386.2 463 386.6 464.1 386.8C465.4 387.1 466.7 387.2 468 387.3C471.3 387.6 474.7 387.5 478 387.7C481.1 387.9 484.3 387.6 487.4 388.3C489.9 388.9 492.5 389.6 494.7 391C496.5 392.2 498.3 393.6 499.4 395.4C500.9 397.9 500.5 401.2 500.6 404.1C500.8 408.5 499.9 412.9 499.1 417.3C498.1 422.7 496.4 428 494.7 433.3C493 438.7 490.9 444 488.9 449.3C486.5 455.6 483.8 461.8 481.2 468.1C479.2 473 477.6 478 475.3 482.7C473.6 486.2 472 489.9 469.5 492.9C466.7 496.4 462.9 498.9 459.3 501.6C454.7 505.1 449.7 508.2 444.7 511.1C440 513.8 435.2 516.3 430.2 518.4C425.5 520.4 420.5 522 415.6 523.5C410.8 524.9 405.9 526 401 527.1C396.2 528.2 391.3 529.2 386.4 530.1C383.5 530.6 380.6 531.1 377.7 531.5L377.7 560L80.5 560L80.5 11.6Z"/></clipPath>
<g clip-path="url(#regA)"><path d="M267.27 -6.17L87.52 186.16M389.81 -2.75L83.58 324.93M521.17 -8.17L88.44 454.85M643.10 -3.36L130.49 545.14M769.75 -4.00L257.13 544.50M806.27 92.03L380.20 547.92" stroke="#97998f" stroke-width="2.0" stroke-linecap="round" stroke-dasharray="0 9.75" fill="none"/></g>
<rect x="80" y="0" width="104.9" height="560" fill="#aa0000" fill-opacity="0.3"/>
</g>
<text class="g i" x="362.3" y="43.8">l</text><text class="g i" x="368.9" y="47.6" style="font-size:17.5px">N</text><text class="g" x="382.1" y="43.8" textLength="13.6" lengthAdjust="spacingAndGlyphs">=</text><text class="g" x="396.1" y="43.8">0.1</text><text class="g" x="432.0" y="43.8">mm</text>
<text class="g" x="478.5" y="70.7">1 mm</text>
<text class="g" x="594" y="79">1 cm</text>
<text class="g" x="698" y="101">10 cm</text>
<text class="g" x="551" y="401">1 m</text>
<text class="w" x="600.2" y="188.4">5</text><text class="w i" x="613" y="188.4" textLength="18.6" lengthAdjust="spacingAndGlyphs">σ</text>
<text class="w" x="688.8" y="188.4">3</text><text class="w i" x="701.8" y="188.4" textLength="18.6" lengthAdjust="spacingAndGlyphs">σ</text>
<text class="ws" x="135.3" y="276">jj</text>
<path d="M111.2 531.5v-5.5M200 531.5v-5.5M263 531.5v-3.1M311.9 531.5v-5.5M351.9 531.5v-3.1M385.7 531.5v-3.1M414.9 531.5v-3.1M440.7 531.5v-3.1M463.8 531.5v-5.5M503.7 531.5v-3.1M537.5 531.5v-3.1M566.8 531.5v-3.1M592.6 531.5v-3.1M615.7 531.5v-5.5M636.6 531.5v-3.1M655.6 531.5v-3.1M673.2 531.5v-3.1M689.4 531.5v-3.1M704.5 531.5v-5.5M718.6 531.5v-3.1M731.9 531.5v-3.1M744.5 531.5v-3.1M756.3 531.5v-3.1M767.5 531.5v-5.5M778.2 531.5v-3.1M788.4 531.5v-3.1M100.5 515.7h3.1M793.5 515.7h-3.1M100.5 472.5h3.1M793.5 472.5h-3.1M100.5 434.5h3.1M793.5 434.5h-3.1M100.5 400.4h5.5M793.5 400.4h-5.5M100.5 369.6h3.1M793.5 369.6h-3.1M100.5 341.4h3.1M793.5 341.4h-3.1M100.5 315.6h3.1M793.5 315.6h-3.1M100.5 291.6h3.1M793.5 291.6h-3.1M100.5 269.3h5.5M793.5 269.3h-5.5M100.5 248.4h3.1M793.5 248.4h-3.1M100.5 228.8h3.1M793.5 228.8h-3.1M100.5 210.3h3.1M793.5 210.3h-3.1M100.5 192.9h3.1M793.5 192.9h-3.1M100.5 176.3h5.5M793.5 176.3h-5.5M100.5 160.5h3.1M793.5 160.5h-3.1M100.5 145.5h3.1M793.5 145.5h-3.1M100.5 131.1h3.1M793.5 131.1h-3.1M100.5 117.3h3.1M793.5 117.3h-3.1M100.5 104.1h5.5M793.5 104.1h-5.5M100.5 91.5h3.1M793.5 91.5h-3.1M100.5 79.2h3.1M793.5 79.2h-3.1M100.5 67.5h3.1M793.5 67.5h-3.1M100.5 56.1h3.1M793.5 56.1h-3.1M100.5 45.2h5.5M793.5 45.2h-5.5M100.5 34.6h3.1M793.5 34.6h-3.1M100.5 24.3h3.1M793.5 24.3h-3.1M100.5 14.4h3.1M793.5 14.4h-3.1" stroke="#4a4a4a" stroke-width="0.9" fill="none"/>
<text class="pl" x="9.2" y="34.1">A</text>
<text x="93.5" y="539.3" text-anchor="end">40</text>
<text x="799.5" y="539.3">13</text>
<text x="93.5" y="408.2" text-anchor="end">60</text>
<text x="799.5" y="408.2">20</text>
<text x="93.5" y="277.1" text-anchor="end">90</text>
<text x="799.5" y="277.1">30</text>
<text x="93.5" y="184.1" text-anchor="end">120</text>
<text x="799.5" y="184.1">40</text>
<text x="93.5" y="111.9" text-anchor="end">150</text>
<text x="799.5" y="111.9">50</text>
<text x="93.5" y="53.0" text-anchor="end">180</text>
<text x="799.5" y="53.0">60</text>
<text x="111.2" y="560.5" text-anchor="middle">2</text>
<text x="200.0" y="560.5" text-anchor="middle">3</text>
<text x="311.9" y="560.5" text-anchor="middle">5</text>
<text x="463.8" y="560.5" text-anchor="middle">10</text>
<text x="615.7" y="560.5" text-anchor="middle">20</text>
<text x="704.5" y="560.5" text-anchor="middle">30</text>
<text x="767.5" y="560.5" text-anchor="middle">40</text>
<text class="al" x="372.2" y="603.8"><tspan class="i">M</tspan><tspan class="i" dy="4.9" style="font-size:19.5px">W</tspan><tspan class="i" dy="3.7" dx="0.8" style="font-size:15.5px">R</tspan><tspan dy="-8.6" dx="11.2">in TeV</tspan></text>
<text class="al" transform="translate(29.3 339.0) rotate(-90)"><tspan class="i">m</tspan><tspan dy="6" style="font-size:22px">Δ</tspan><tspan dy="-6" dx="5.8">in GeV</tspan></text>
<text class="al" transform="translate(864.5 345.0) rotate(-90)"><tspan class="i">m</tspan><tspan class="i" dy="5.5" style="font-size:21.5px">N</tspan><tspan class="i" dy="5" dx="-0.5" style="font-size:17px">μ</tspan><tspan dy="-10.5" dx="7.5">in GeV</tspan></text>
<rect x="604.5" y="336.9" width="183.9" height="186.6" fill="#fff" stroke="#1a1a1a" stroke-width="1.2"/>
<text class="lg" x="697.8" y="365.9" text-anchor="middle" style="fill:#5a0f5e">Muons</text>
<path d="M615.3 401.6l3 -1.9l5.8 14.2l10.4 -26.5h17.2" fill="none" stroke="#000" stroke-width="1.2" stroke-linejoin="miter"/>
<path d="M618.5 400.0l5.6 13.6" fill="none" stroke="#000" stroke-width="2.2"/>
<text class="lg" x="635.6" y="411.6"><tspan class="i" style="font-size:26px">s</tspan></text>
<text class="lg" x="654.2" y="411.6" textLength="14.6" lengthAdjust="spacingAndGlyphs">=</text>
<text class="lg" x="670.6" y="411.6">13 TeV</text>
<text class="lg" x="625.6" y="449.0" textLength="19" lengthAdjust="spacingAndGlyphs" style="font-size:26px;stroke:#000;stroke-width:0.5px">ℒ</text>
<text class="lg" x="650.8" y="449.0" textLength="14.6" lengthAdjust="spacingAndGlyphs">=</text>
<text class="lg" x="673.5" y="449.0">100 fb<tspan dy="-10" style="font-size:17px">−1</tspan></text>
<text class="lg" x="628.3" y="481.7"><tspan class="i">s</tspan><tspan class="i" dy="6" style="font-size:17px">θ</tspan></text>
<text class="lg" x="650.8" y="481.7" textLength="14.6" lengthAdjust="spacingAndGlyphs">=</text>
<text class="lg" x="717.6" y="481.7" text-anchor="end">5%</text>
<text class="lg" x="717.4" y="513.8" text-anchor="end">10%</text>
<path d="M728.4 472.5h51" stroke="#62106a" stroke-width="1" stroke-dasharray="6.8 4.6" fill="none"/>
<path d="M728.4 508.5h51" stroke="#62106a" stroke-width="1" fill="none"/>
</g>
<g id="panelB">
<clipPath id="clipB"><rect x="999" y="7" width="698" height="525"/></clipPath>
<path d="M1212.4 7.5V531.5M1365.2 7.5V531.5M1518 7.5V531.5M1607.3 7.5V531.5M1670.7 7.5V531.5M999.5 399.7H1696.5M999.5 267.9H1696.5M999.5 174.3H1696.5M999.5 101.8H1696.5M999.5 42.5H1696.5" stroke="#f6f6f6" stroke-width="1" fill="none"/>
<rect x="999.5" y="7.5" width="697" height="524" fill="none" stroke="#808080" stroke-width="1"/>
<g clip-path="url(#clipB)">
<path d="M1046 0C1048.2 2.4 1050.4 4.8 1052.8 7.1C1056.8 10.8 1061.2 14.2 1065.7 17.3C1070.7 20.7 1076.1 23.7 1081.4 26.5C1088.1 30.2 1095 33.4 1102 36.4C1106.8 38.4 1111.7 40.4 1116.7 42.1C1121.4 43.8 1126.3 45.2 1131.2 46.7C1136 48.3 1140.8 49.7 1145.6 51.4C1150.5 53.1 1155.4 55 1160.3 56.7C1165.2 58.4 1170 60.2 1175 61.7C1179.8 63.2 1184.6 64.5 1189.5 65.6C1194.3 66.7 1199.1 67.5 1204 68.3C1208.8 69.2 1213.7 69.8 1218.6 70.6C1223.5 71.3 1228.3 72.1 1233.1 72.8C1235.4 73.1 1237.7 73.5 1240.1 73.8C1249.7 75.2 1259.4 76.4 1269.1 77.4C1278.8 78.5 1288.6 79.2 1298.3 79.9C1308 80.6 1317.7 81 1327.4 81.6C1337.1 82.2 1346.9 82.7 1356.6 83.5C1366.3 84.2 1376 85 1385.7 86C1395.5 87 1405.2 88 1414.9 89.3C1423.3 90.5 1431.6 91.7 1439.9 93.1C1449.7 94.9 1459.5 96.9 1469.1 99.1C1478.9 101.3 1488.7 103.8 1498.3 106.5C1508.1 109.1 1517.8 111.7 1527.4 115C1532.3 116.6 1537.2 118.3 1542 120.2C1547 122.3 1552 124.5 1556.7 127.1C1561.7 129.8 1566.6 132.7 1571.3 136C1576.3 139.6 1581.2 143.4 1585.5 147.9C1588.3 151 1591.1 154.1 1593.3 157.7C1594.9 160.5 1596.5 163.4 1597.4 166.6C1598 168.7 1598.5 170.9 1598.6 173.1C1598.6 175.6 1598.2 178 1597.6 180.4C1596.9 183.4 1595.6 186.3 1594.2 189.1C1592.3 192.7 1589.9 196 1587.5 199.3C1584.9 202.9 1581.9 206.3 1579 209.7C1575.8 213.7 1572.4 217.6 1569.1 221.5C1565.4 225.9 1561.8 230.5 1558.1 234.8C1554.1 239.3 1550.1 243.8 1545.8 248C1541.2 252.7 1536.3 257 1531.4 261.3C1526.6 265.4 1521.7 269.3 1516.8 273.1C1512 276.9 1507 280.4 1502.2 284.1C1497.3 287.7 1492.4 291.3 1487.6 295C1482.7 298.9 1477.9 302.8 1473.2 306.9C1468.7 310.8 1464.5 315 1460 319C1457.7 321 1455.3 323 1452.9 325C1446 330.6 1438.7 335.6 1431.3 340.6C1426.5 343.9 1421.6 347 1416.8 350C1412 353.1 1407.1 356 1402.3 359C1397.4 362.1 1392.6 365.3 1387.6 368.4C1382.7 371.4 1377.9 374.6 1372.8 377.5C1370.4 378.9 1368 380.2 1365.5 381.5L1364 385.9C1376 386 1388 386.2 1400 386.3C1406.7 386.4 1413.3 386.4 1420 386.5C1422.3 386.5 1424.7 386.5 1427 386.6C1428.4 386.7 1429.9 386.7 1431.3 386.9C1433.8 387.3 1436.5 388 1438.6 389.4C1440.3 390.5 1441.8 392.1 1443 393.8C1444.2 395.4 1445 397.3 1445.7 399.2C1446.8 402.2 1447 405.4 1447.2 408.5C1447.5 412.4 1447.1 416.3 1446.7 420.2C1446.2 425.6 1445 430.9 1444 436.2C1442.9 441.6 1441.7 446.9 1440.4 452.2C1439.8 454.6 1439.2 457 1438.6 459.4C1437.1 465.2 1435.7 471.1 1434.2 476.9C1432.4 483.7 1430.4 490.5 1428.4 497.3C1426.5 503.6 1424.6 509.9 1422.6 516.2C1421 521.3 1419.2 526.4 1417.5 531.5L1417.5 560L979.5 560L979.5 -12.5L1036 -12.5L1046 0Z" fill="#aa5500" fill-opacity="0.25"/>
<path d="M1043 0C1045.1 2.5 1047.3 5 1049.7 7.3C1052.4 9.8 1055.4 12.1 1058.5 14.3C1063 17.3 1067.9 19.7 1072.8 22.1C1077.5 24.5 1082.4 26.6 1087.3 28.6C1092.2 30.6 1097.1 32.4 1102 34.1C1106.8 35.7 1111.7 37.1 1116.6 38.5C1121.5 39.9 1126.4 40.9 1131.2 42.2C1136 43.5 1140.8 44.8 1145.6 46.3C1150.5 48 1155.4 49.9 1160.3 51.7C1165.2 53.5 1170.1 55.6 1175 57.3C1179.8 59 1184.6 60.6 1189.5 62C1194.3 63.4 1199.1 64.5 1204 65.6C1208.8 66.7 1213.7 67.5 1218.6 68.4C1223.4 69.2 1228.3 69.9 1233.1 70.7C1235.4 71.1 1237.7 71.5 1240 71.8C1249.7 73.4 1259.4 74.9 1269.1 76.1C1278.8 77.3 1288.6 78.2 1298.3 79C1308 79.8 1317.7 80.3 1327.4 80.9C1337.1 81.5 1346.9 82 1356.6 82.7C1366.3 83.4 1376 84.2 1385.7 85.1C1395.5 86.1 1405.2 87 1415 88.3C1423.3 89.4 1431.6 90.6 1439.9 92C1449.7 93.7 1459.4 95.7 1469.1 97.9C1478.9 100.1 1488.6 102.6 1498.3 105.2C1508.1 107.8 1517.8 110.4 1527.4 113.4C1532.3 115 1537.2 116.5 1542.1 118.3C1547 120.2 1551.9 122.2 1556.7 124.5C1561.7 126.9 1566.6 129.5 1571.2 132.4C1576.3 135.7 1581.3 139.2 1585.6 143.4C1588.3 146 1590.9 148.8 1593.1 151.9C1595.4 155.1 1597.4 158.5 1599 162.1C1600 164.4 1601.1 166.6 1601.6 169C1601.8 170.3 1602 171.7 1602 173.1C1602 175.6 1601.4 178 1600.7 180.4C1599.9 183.4 1598.5 186.3 1597.1 189.1C1595.2 192.7 1592.8 196 1590.4 199.3C1587.7 202.9 1584.7 206.2 1581.9 209.7C1578.6 213.6 1575.4 217.6 1572.2 221.7C1568.9 226 1565.8 230.5 1562.4 234.8C1559.4 238.5 1556.4 242.3 1553.1 245.8C1548.6 250.8 1543.7 255.4 1538.7 259.9C1533.9 264.1 1529 268.2 1524 272.2C1519.2 275.9 1514.4 279.5 1509.5 283.1C1504.6 286.7 1499.6 290.2 1494.8 293.9C1490 297.6 1485.2 301.3 1480.6 305.3C1475.6 309.5 1471 314.2 1466.1 318.5C1464.1 320.4 1462 322.2 1459.9 324C1453.2 329.7 1445.9 334.9 1438.6 339.9C1433.8 343.2 1428.9 346.3 1424 349.4C1419.2 352.4 1414.3 355.2 1409.6 358.2C1404.6 361.3 1399.7 364.4 1394.9 367.6C1390 371 1385.1 374.3 1380.4 377.9C1379.3 378.7 1378.2 379.6 1377.1 380.4L1379.8 385.9C1382.5 386 1385.3 386.1 1388 386.2C1389.7 386.3 1391.3 386.3 1393 386.5C1396 386.9 1399.2 387.2 1401.8 388.8C1403.8 390.1 1405.6 391.8 1406.9 393.9C1408.5 396.5 1408.9 399.7 1409.1 402.7C1409.3 406.7 1407.8 410.5 1406.9 414.4C1405.6 419.8 1403.6 425.1 1401.8 430.4C1400 435.8 1397.9 441.1 1395.9 446.4C1393.7 452.3 1391.2 458.1 1389.4 464.2C1388.7 466.5 1388.3 468.8 1387.6 471C1385.8 477 1383 482.8 1380.3 488.5C1377.7 494 1374.5 499.2 1371.6 504.6C1368.7 509.9 1365.7 515.2 1362.8 520.6C1360.8 524.2 1358.9 527.9 1357 531.5L1357 560L979.5 560L979.5 -12.5L1033 -12.5L1043 0Z" fill="#aa5500" fill-opacity="0.25"/>
<path d="M979.5 29.9C986.3 32.7 993.1 35.5 1000 37.9C1004.8 39.6 1009.7 40.9 1014.5 42.6C1019.4 44.3 1024.3 46.2 1029.1 48.1C1034 49.9 1038.8 52 1043.7 53.8C1048.6 55.6 1053.4 57.4 1058.3 59C1063.1 60.6 1068 62.1 1072.9 63.4C1077.7 64.8 1082.5 66 1087.4 67C1092.2 68.1 1097.1 69.1 1102 70C1106.9 70.8 1111.7 71.5 1116.6 72.2C1121.4 72.8 1126.3 73.4 1131.2 73.9C1136 74.4 1140.9 74.9 1145.7 75.3C1150.6 75.8 1155.4 76.1 1160.3 76.5C1170 77.3 1179.8 78 1189.5 78.7C1199.2 79.4 1208.9 80 1218.6 80.7C1225.7 81.2 1232.9 81.6 1240 82.1C1249.7 82.8 1259.4 83.6 1269.1 84.5C1278.9 85.4 1288.6 86.4 1298.3 87.6C1308 88.7 1317.7 90 1327.4 91.6C1337.2 93.1 1346.9 94.8 1356.6 96.8C1366.4 98.7 1376.1 100.9 1385.8 103.3C1395.6 105.7 1405.3 108.3 1414.9 111.3C1423.4 113.9 1431.9 116.4 1440 120C1445 122.1 1450 124.4 1454.7 127.2C1459.7 130.2 1464.6 133.7 1469.1 137.5C1473.3 141 1477.3 144.9 1480.8 149.1C1483.5 152.3 1486 155.7 1488.2 159.2C1490.2 162.5 1492.4 165.7 1493.4 169.4C1493.8 170.8 1494.1 172.1 1494.2 173.5C1494.3 175.9 1493.6 178.2 1493 180.4C1492.1 183.5 1490.7 186.3 1489.2 189.1C1487.4 192.7 1485 196.1 1482.7 199.4C1480 203.2 1477 206.8 1474 210.4C1470.7 214.4 1467.3 218.3 1463.9 222.1C1460 226.5 1456 230.8 1451.9 234.9C1447 240 1441.9 244.9 1436.6 249.6C1431.9 253.9 1427 258 1422.1 262.1C1417.3 266 1412.4 269.8 1407.4 273.6C1402.6 277.3 1397.6 280.8 1392.7 284.4C1388 287.9 1383.1 291.3 1378.4 295C1373.5 298.8 1368.8 302.8 1364.1 306.9C1359.6 310.8 1355.3 315.1 1350.8 319.1C1346.1 323.1 1341.5 327.2 1336.6 331C1331.9 334.7 1327 338.1 1322.1 341.4C1317.3 344.7 1312.4 347.8 1307.4 350.8C1302.6 353.8 1297.8 356.7 1292.9 359.6C1288.1 362.3 1283.2 365 1278.3 367.7C1273.5 370.3 1268.5 372.8 1263.6 375.4C1258.8 378 1253.9 380.4 1249.3 383.2C1247.8 384.1 1246.3 385.1 1244.8 386L1300 386.3C1326.7 386.3 1353.3 386.4 1380 386.5C1385.3 386.5 1390.7 386.5 1396 386.6C1397.7 386.6 1399.3 386.6 1401 386.7C1402.2 386.7 1403.5 386.8 1404.7 386.9C1408.2 387.3 1411.9 387.7 1414.9 389.6C1417.7 391.3 1419.8 394.1 1421.4 396.9C1423.1 400 1423.9 403.6 1424.4 407.1C1424.9 410.9 1424.3 414.8 1423.9 418.7C1423.4 423.6 1422.2 428.4 1421.4 433.3C1420.4 439.1 1419 444.9 1418.5 450.8C1418.3 453.7 1418.5 456.5 1418.2 459.4C1417.6 465.4 1415.3 471.1 1413.8 476.9C1412 483.7 1410 490.5 1408 497.3C1406.1 503.6 1404.1 509.9 1402.2 516.2C1400.7 521.3 1399.2 526.4 1397.8 531.5L1397.8 560L979.5 560L979.5 29.9Z" fill="#aa5500" fill-opacity="0.25"/>
<path d="M979.5 24.8C986.2 27.8 993 30.7 1000 32.8C1004.8 34.2 1009.7 34.9 1014.6 36.2C1019.4 37.4 1024.3 38.8 1029.1 40.2C1034 41.7 1038.9 43.4 1043.7 45.1C1048.6 46.8 1053.4 48.6 1058.3 50.3C1063.2 52 1068 53.7 1072.9 55.3C1077.7 56.9 1082.5 58.4 1087.4 59.9C1092.2 61.4 1097.1 62.8 1102 64.1C1106.8 65.4 1111.7 66.7 1116.6 67.8C1121.4 68.8 1126.3 69.8 1131.2 70.6C1136 71.4 1140.8 72 1145.7 72.6C1150.5 73.2 1155.4 73.7 1160.3 74.3C1170 75.4 1179.8 76.3 1189.5 77.2C1199.2 78.1 1208.9 78.9 1218.6 79.7C1225.7 80.2 1232.9 80.6 1240 81.1C1249.7 81.8 1259.4 82.3 1269.1 83.1C1278.8 83.9 1288.6 84.7 1298.3 85.8C1308 86.9 1317.7 88.1 1327.4 89.5C1337.2 91 1346.9 92.7 1356.6 94.6C1366.4 96.5 1376.1 98.6 1385.7 100.9C1395.5 103.2 1405.3 105.5 1415 108.2C1423.3 110.5 1431.8 112.8 1439.9 115.8C1444.9 117.6 1450 119.5 1454.8 121.9C1459.7 124.3 1464.5 127.1 1469.1 130.2C1474.2 133.7 1479.2 137.6 1483.6 141.9C1487.3 145.5 1490.7 149.4 1493.8 153.5C1496.1 156.7 1498.3 160 1500.1 163.5C1501.2 165.6 1502.5 167.7 1503.1 170C1503.4 171.1 1503.6 172.3 1503.7 173.5C1503.8 175.9 1503 178.2 1502.4 180.4C1501.5 183.4 1500.1 186.3 1498.7 189.1C1497 192.2 1495 195.1 1493 197.9C1490.2 201.7 1487.1 205.2 1484 208.7C1480.8 212.5 1477.4 216.2 1474.1 220C1470.7 223.9 1467.5 227.8 1464.1 231.7C1459.7 236.8 1455.4 242.1 1450.6 246.9C1446.2 251.4 1441.5 255.7 1436.6 259.8C1432 263.7 1427 267.3 1422.1 270.9C1417.2 274.5 1412.2 277.8 1407.3 281.5C1402.4 285.1 1397.5 288.6 1392.8 292.5C1388.1 296.5 1383.7 300.8 1379.2 305.1C1374.3 309.9 1369.8 315.2 1364.8 320C1360.4 324.2 1356 328.3 1351.3 332C1346.6 335.7 1341.7 339 1336.7 342.3C1331.9 345.5 1326.9 348.5 1322 351.5C1317.2 354.5 1312.3 357.4 1307.4 360.3C1302.6 363.2 1297.7 366 1292.9 368.9C1288 371.9 1283 374.5 1278.5 378.1C1277.7 378.7 1277 379.3 1276.2 380L1278.5 385.7C1292.3 385.9 1306.2 386 1320 386.1C1327.3 386.1 1334.7 386.1 1342 386.2C1344.3 386.2 1346.7 386.2 1349 386.3C1350.6 386.3 1352.1 386.4 1353.7 386.5C1357.6 386.8 1361.7 387.1 1365.3 388.8C1368 390 1370.7 391.6 1372.6 393.9C1374.6 396.4 1375.7 399.6 1376.3 402.7C1377 406.5 1376 410.5 1375.5 414.4C1374.8 419.8 1373.3 425.1 1371.9 430.4C1370.4 435.8 1368.7 441.1 1366.8 446.4C1365.8 449.3 1364.6 452.1 1363.6 455C1362.3 458.9 1361.2 462.8 1359.9 466.7C1358.1 472.1 1356.3 477.5 1354.1 482.7C1351.9 487.7 1349.5 492.6 1346.8 497.3C1343.7 502.8 1340 508 1336.6 513.3C1332.7 519.4 1328.8 525.4 1324.9 531.5L1324.9 560L979.5 560L979.5 24.8Z" fill="#aa5500" fill-opacity="0.25"/>
<path d="M1046 0C1048.2 2.4 1050.4 4.8 1052.8 7.1C1056.8 10.8 1061.2 14.2 1065.7 17.3C1070.7 20.7 1076.1 23.7 1081.4 26.5C1088.1 30.2 1095 33.4 1102 36.4C1106.8 38.4 1111.7 40.4 1116.7 42.1C1121.4 43.8 1126.3 45.2 1131.2 46.7C1136 48.3 1140.8 49.7 1145.6 51.4C1150.5 53.1 1155.4 55 1160.3 56.7C1165.2 58.4 1170 60.2 1175 61.7C1179.8 63.2 1184.6 64.5 1189.5 65.6C1194.3 66.7 1199.1 67.5 1204 68.3C1208.8 69.2 1213.7 69.8 1218.6 70.6C1223.5 71.3 1228.3 72.1 1233.1 72.8C1235.4 73.1 1237.7 73.5 1240.1 73.8C1249.7 75.2 1259.4 76.4 1269.1 77.4C1278.8 78.5 1288.6 79.2 1298.3 79.9C1308 80.6 1317.7 81 1327.4 81.6C1337.1 82.2 1346.9 82.7 1356.6 83.5C1366.3 84.2 1376 85 1385.7 86C1395.5 87 1405.2 88 1414.9 89.3C1423.3 90.5 1431.6 91.7 1439.9 93.1C1449.7 94.9 1459.5 96.9 1469.1 99.1C1478.9 101.3 1488.7 103.8 1498.3 106.5C1508.1 109.1 1517.8 111.7 1527.4 115C1532.3 116.6 1537.2 118.3 1542 120.2C1547 122.3 1552 124.5 1556.7 127.1C1561.7 129.8 1566.6 132.7 1571.3 136C1576.3 139.6 1581.2 143.4 1585.5 147.9C1588.3 151 1591.1 154.1 1593.3 157.7C1594.9 160.5 1596.5 163.4 1597.4 166.6C1598 168.7 1598.5 170.9 1598.6 173.1C1598.6 175.6 1598.2 178 1597.6 180.4C1596.9 183.4 1595.6 186.3 1594.2 189.1C1592.3 192.7 1589.9 196 1587.5 199.3C1584.9 202.9 1581.9 206.3 1579 209.7C1575.8 213.7 1572.4 217.6 1569.1 221.5C1565.4 225.9 1561.8 230.5 1558.1 234.8C1554.1 239.3 1550.1 243.8 1545.8 248C1541.2 252.7 1536.3 257 1531.4 261.3C1526.6 265.4 1521.7 269.3 1516.8 273.1C1512 276.9 1507 280.4 1502.2 284.1C1497.3 287.7 1492.4 291.3 1487.6 295C1482.7 298.9 1477.9 302.8 1473.2 306.9C1468.7 310.8 1464.5 315 1460 319C1457.7 321 1455.3 323 1452.9 325C1446 330.6 1438.7 335.6 1431.3 340.6C1426.5 343.9 1421.6 347 1416.8 350C1412 353.1 1407.1 356 1402.3 359C1397.4 362.1 1392.6 365.3 1387.6 368.4C1382.7 371.4 1377.9 374.6 1372.8 377.5C1370.4 378.9 1368 380.2 1365.5 381.5L1364 385.9C1376 386 1388 386.2 1400 386.3C1406.7 386.4 1413.3 386.4 1420 386.5C1422.3 386.5 1424.7 386.5 1427 386.6C1428.4 386.7 1429.9 386.7 1431.3 386.9C1433.8 387.3 1436.5 388 1438.6 389.4C1440.3 390.5 1441.8 392.1 1443 393.8C1444.2 395.4 1445 397.3 1445.7 399.2C1446.8 402.2 1447 405.4 1447.2 408.5C1447.5 412.4 1447.1 416.3 1446.7 420.2C1446.2 425.6 1445 430.9 1444 436.2C1442.9 441.6 1441.7 446.9 1440.4 452.2C1439.8 454.6 1439.2 457 1438.6 459.4C1437.1 465.2 1435.7 471.1 1434.2 476.9C1432.4 483.7 1430.4 490.5 1428.4 497.3C1426.5 503.6 1424.6 509.9 1422.6 516.2C1421 521.3 1419.2 526.4 1417.5 531.5" fill="none" stroke="#ad5606" stroke-width="1.05" stroke-dasharray="7.5 5.5"/>
<path d="M1043 0C1045.1 2.5 1047.3 5 1049.7 7.3C1052.4 9.8 1055.4 12.1 1058.5 14.3C1063 17.3 1067.9 19.7 1072.8 22.1C1077.5 24.5 1082.4 26.6 1087.3 28.6C1092.2 30.6 1097.1 32.4 1102 34.1C1106.8 35.7 1111.7 37.1 1116.6 38.5C1121.5 39.9 1126.4 40.9 1131.2 42.2C1136 43.5 1140.8 44.8 1145.6 46.3C1150.5 48 1155.4 49.9 1160.3 51.7C1165.2 53.5 1170.1 55.6 1175 57.3C1179.8 59 1184.6 60.6 1189.5 62C1194.3 63.4 1199.1 64.5 1204 65.6C1208.8 66.7 1213.7 67.5 1218.6 68.4C1223.4 69.2 1228.3 69.9 1233.1 70.7C1235.4 71.1 1237.7 71.5 1240 71.8C1249.7 73.4 1259.4 74.9 1269.1 76.1C1278.8 77.3 1288.6 78.2 1298.3 79C1308 79.8 1317.7 80.3 1327.4 80.9C1337.1 81.5 1346.9 82 1356.6 82.7C1366.3 83.4 1376 84.2 1385.7 85.1C1395.5 86.1 1405.2 87 1415 88.3C1423.3 89.4 1431.6 90.6 1439.9 92C1449.7 93.7 1459.4 95.7 1469.1 97.9C1478.9 100.1 1488.6 102.6 1498.3 105.2C1508.1 107.8 1517.8 110.4 1527.4 113.4C1532.3 115 1537.2 116.5 1542.1 118.3C1547 120.2 1551.9 122.2 1556.7 124.5C1561.7 126.9 1566.6 129.5 1571.2 132.4C1576.3 135.7 1581.3 139.2 1585.6 143.4C1588.3 146 1590.9 148.8 1593.1 151.9C1595.4 155.1 1597.4 158.5 1599 162.1C1600 164.4 1601.1 166.6 1601.6 169C1601.8 170.3 1602 171.7 1602 173.1C1602 175.6 1601.4 178 1600.7 180.4C1599.9 183.4 1598.5 186.3 1597.1 189.1C1595.2 192.7 1592.8 196 1590.4 199.3C1587.7 202.9 1584.7 206.2 1581.9 209.7C1578.6 213.6 1575.4 217.6 1572.2 221.7C1568.9 226 1565.8 230.5 1562.4 234.8C1559.4 238.5 1556.4 242.3 1553.1 245.8C1548.6 250.8 1543.7 255.4 1538.7 259.9C1533.9 264.1 1529 268.2 1524 272.2C1519.2 275.9 1514.4 279.5 1509.5 283.1C1504.6 286.7 1499.6 290.2 1494.8 293.9C1490 297.6 1485.2 301.3 1480.6 305.3C1475.6 309.5 1471 314.2 1466.1 318.5C1464.1 320.4 1462 322.2 1459.9 324C1453.2 329.7 1445.9 334.9 1438.6 339.9C1433.8 343.2 1428.9 346.3 1424 349.4C1419.2 352.4 1414.3 355.2 1409.6 358.2C1404.6 361.3 1399.7 364.4 1394.9 367.6C1390 371 1385.1 374.3 1380.4 377.9C1379.3 378.7 1378.2 379.6 1377.1 380.4L1379.8 385.9C1382.5 386 1385.3 386.1 1388 386.2C1389.7 386.3 1391.3 386.3 1393 386.5C1396 386.9 1399.2 387.2 1401.8 388.8C1403.8 390.1 1405.6 391.8 1406.9 393.9C1408.5 396.5 1408.9 399.7 1409.1 402.7C1409.3 406.7 1407.8 410.5 1406.9 414.4C1405.6 419.8 1403.6 425.1 1401.8 430.4C1400 435.8 1397.9 441.1 1395.9 446.4C1393.7 452.3 1391.2 458.1 1389.4 464.2C1388.7 466.5 1388.3 468.8 1387.6 471C1385.8 477 1383 482.8 1380.3 488.5C1377.7 494 1374.5 499.2 1371.6 504.6C1368.7 509.9 1365.7 515.2 1362.8 520.6C1360.8 524.2 1358.9 527.9 1357 531.5" fill="none" stroke="#ad5606" stroke-width="1.05"/>
<path d="M1000 37.9C1004.8 39.4 1009.7 40.9 1014.5 42.6C1019.4 44.3 1024.3 46.2 1029.1 48.1C1034 49.9 1038.8 52 1043.7 53.8C1048.6 55.6 1053.4 57.4 1058.3 59C1063.1 60.6 1068 62.1 1072.9 63.4C1077.7 64.8 1082.5 66 1087.4 67C1092.2 68.1 1097.1 69.1 1102 70C1106.9 70.8 1111.7 71.5 1116.6 72.2C1121.4 72.8 1126.3 73.4 1131.2 73.9C1136 74.4 1140.9 74.9 1145.7 75.3C1150.6 75.8 1155.4 76.1 1160.3 76.5C1170 77.3 1179.8 78 1189.5 78.7C1199.2 79.4 1208.9 80 1218.6 80.7C1225.7 81.2 1232.9 81.6 1240 82.1C1249.7 82.8 1259.4 83.6 1269.1 84.5C1278.9 85.4 1288.6 86.4 1298.3 87.6C1308 88.7 1317.7 90 1327.4 91.6C1337.2 93.1 1346.9 94.8 1356.6 96.8C1366.4 98.7 1376.1 100.9 1385.8 103.3C1395.6 105.7 1405.3 108.3 1414.9 111.3C1423.4 113.9 1431.9 116.4 1440 120C1445 122.1 1450 124.4 1454.7 127.2C1459.7 130.2 1464.6 133.7 1469.1 137.5C1473.3 141 1477.3 144.9 1480.8 149.1C1483.5 152.3 1486 155.7 1488.2 159.2C1490.2 162.5 1492.4 165.7 1493.4 169.4C1493.8 170.8 1494.1 172.1 1494.2 173.5C1494.3 175.9 1493.6 178.2 1493 180.4C1492.1 183.5 1490.7 186.3 1489.2 189.1C1487.4 192.7 1485 196.1 1482.7 199.4C1480 203.2 1477 206.8 1474 210.4C1470.7 214.4 1467.3 218.3 1463.9 222.1C1460 226.5 1456 230.8 1451.9 234.9C1447 240 1441.9 244.9 1436.6 249.6C1431.9 253.9 1427 258 1422.1 262.1C1417.3 266 1412.4 269.8 1407.4 273.6C1402.6 277.3 1397.6 280.8 1392.7 284.4C1388 287.9 1383.1 291.3 1378.4 295C1373.5 298.8 1368.8 302.8 1364.1 306.9C1359.6 310.8 1355.3 315.1 1350.8 319.1C1346.1 323.1 1341.5 327.2 1336.6 331C1331.9 334.7 1327 338.1 1322.1 341.4C1317.3 344.7 1312.4 347.8 1307.4 350.8C1302.6 353.8 1297.8 356.7 1292.9 359.6C1288.1 362.3 1283.2 365 1278.3 367.7C1273.5 370.3 1268.5 372.8 1263.6 375.4C1258.8 378 1253.9 380.4 1249.3 383.2C1247.8 384.1 1246.3 385.1 1244.8 386L1300 386.3C1326.7 386.3 1353.3 386.4 1380 386.5C1385.3 386.5 1390.7 386.5 1396 386.6C1397.7 386.6 1399.3 386.6 1401 386.7C1402.2 386.7 1403.5 386.8 1404.7 386.9C1408.2 387.3 1411.9 387.7 1414.9 389.6C1417.7 391.3 1419.8 394.1 1421.4 396.9C1423.1 400 1423.9 403.6 1424.4 407.1C1424.9 410.9 1424.3 414.8 1423.9 418.7C1423.4 423.6 1422.2 428.4 1421.4 433.3C1420.4 439.1 1419 444.9 1418.5 450.8C1418.3 453.7 1418.5 456.5 1418.2 459.4C1417.6 465.4 1415.3 471.1 1413.8 476.9C1412 483.7 1410 490.5 1408 497.3C1406.1 503.6 1404.1 509.9 1402.2 516.2C1400.7 521.3 1399.2 526.4 1397.8 531.5" fill="none" stroke="#ad5606" stroke-width="1.05" stroke-dasharray="7.5 5.5"/>
<path d="M1000 32.8C1004.9 33.9 1009.7 34.9 1014.6 36.2C1019.4 37.4 1024.3 38.8 1029.1 40.2C1034 41.7 1038.9 43.4 1043.7 45.1C1048.6 46.8 1053.4 48.6 1058.3 50.3C1063.2 52 1068 53.7 1072.9 55.3C1077.7 56.9 1082.5 58.4 1087.4 59.9C1092.2 61.4 1097.1 62.8 1102 64.1C1106.8 65.4 1111.7 66.7 1116.6 67.8C1121.4 68.8 1126.3 69.8 1131.2 70.6C1136 71.4 1140.8 72 1145.7 72.6C1150.5 73.2 1155.4 73.7 1160.3 74.3C1170 75.4 1179.8 76.3 1189.5 77.2C1199.2 78.1 1208.9 78.9 1218.6 79.7C1225.7 80.2 1232.9 80.6 1240 81.1C1249.7 81.8 1259.4 82.3 1269.1 83.1C1278.8 83.9 1288.6 84.7 1298.3 85.8C1308 86.9 1317.7 88.1 1327.4 89.5C1337.2 91 1346.9 92.7 1356.6 94.6C1366.4 96.5 1376.1 98.6 1385.7 100.9C1395.5 103.2 1405.3 105.5 1415 108.2C1423.3 110.5 1431.8 112.8 1439.9 115.8C1444.9 117.6 1450 119.5 1454.8 121.9C1459.7 124.3 1464.5 127.1 1469.1 130.2C1474.2 133.7 1479.2 137.6 1483.6 141.9C1487.3 145.5 1490.7 149.4 1493.8 153.5C1496.1 156.7 1498.3 160 1500.1 163.5C1501.2 165.6 1502.5 167.7 1503.1 170C1503.4 171.1 1503.6 172.3 1503.7 173.5C1503.8 175.9 1503 178.2 1502.4 180.4C1501.5 183.4 1500.1 186.3 1498.7 189.1C1497 192.2 1495 195.1 1493 197.9C1490.2 201.7 1487.1 205.2 1484 208.7C1480.8 212.5 1477.4 216.2 1474.1 220C1470.7 223.9 1467.5 227.8 1464.1 231.7C1459.7 236.8 1455.4 242.1 1450.6 246.9C1446.2 251.4 1441.5 255.7 1436.6 259.8C1432 263.7 1427 267.3 1422.1 270.9C1417.2 274.5 1412.2 277.8 1407.3 281.5C1402.4 285.1 1397.5 288.6 1392.8 292.5C1388.1 296.5 1383.7 300.8 1379.2 305.1C1374.3 309.9 1369.8 315.2 1364.8 320C1360.4 324.2 1356 328.3 1351.3 332C1346.6 335.7 1341.7 339 1336.7 342.3C1331.9 345.5 1326.9 348.5 1322 351.5C1317.2 354.5 1312.3 357.4 1307.4 360.3C1302.6 363.2 1297.7 366 1292.9 368.9C1288 371.9 1283 374.5 1278.5 378.1C1277.7 378.7 1277 379.3 1276.2 380L1278.5 385.7C1292.3 385.9 1306.2 386 1320 386.1C1327.3 386.1 1334.7 386.1 1342 386.2C1344.3 386.2 1346.7 386.2 1349 386.3C1350.6 386.3 1352.1 386.4 1353.7 386.5C1357.6 386.8 1361.7 387.1 1365.3 388.8C1368 390 1370.7 391.6 1372.6 393.9C1374.6 396.4 1375.7 399.6 1376.3 402.7C1377 406.5 1376 410.5 1375.5 414.4C1374.8 419.8 1373.3 425.1 1371.9 430.4C1370.4 435.8 1368.7 441.1 1366.8 446.4C1365.8 449.3 1364.6 452.1 1363.6 455C1362.3 458.9 1361.2 462.8 1359.9 466.7C1358.1 472.1 1356.3 477.5 1354.1 482.7C1351.9 487.7 1349.5 492.6 1346.8 497.3C1343.7 502.8 1340 508 1336.6 513.3C1332.7 519.4 1328.8 525.4 1324.9 531.5" fill="none" stroke="#ad5606" stroke-width="1.05"/>
<path d="M1166.77 -8.27L987.02 184.06M1290.49 -6.02L984.25 321.66M1420.06 -9.79L987.33 453.23M1544.66 -6.19L1025.39 549.44M1676.00 -10.63L1156.73 545.00M1709.47 89.13L1283.40 545.02" stroke="#7a7a7c" stroke-width="2.3" stroke-linecap="round" stroke-dasharray="0 9.75" fill="none"/>
<clipPath id="regB"><path d="M1046 0C1048.2 2.4 1050.4 4.8 1052.8 7.1C1056.8 10.8 1061.2 14.2 1065.7 17.3C1070.7 20.7 1076.1 23.7 1081.4 26.5C1088.1 30.2 1095 33.4 1102 36.4C1106.8 38.4 1111.7 40.4 1116.7 42.1C1121.4 43.8 1126.3 45.2 1131.2 46.7C1136 48.3 1140.8 49.7 1145.6 51.4C1150.5 53.1 1155.4 55 1160.3 56.7C1165.2 58.4 1170 60.2 1175 61.7C1179.8 63.2 1184.6 64.5 1189.5 65.6C1194.3 66.7 1199.1 67.5 1204 68.3C1208.8 69.2 1213.7 69.8 1218.6 70.6C1223.5 71.3 1228.3 72.1 1233.1 72.8C1235.4 73.1 1237.7 73.5 1240.1 73.8C1249.7 75.2 1259.4 76.4 1269.1 77.4C1278.8 78.5 1288.6 79.2 1298.3 79.9C1308 80.6 1317.7 81 1327.4 81.6C1337.1 82.2 1346.9 82.7 1356.6 83.5C1366.3 84.2 1376 85 1385.7 86C1395.5 87 1405.2 88 1414.9 89.3C1423.3 90.5 1431.6 91.7 1439.9 93.1C1449.7 94.9 1459.5 96.9 1469.1 99.1C1478.9 101.3 1488.7 103.8 1498.3 106.5C1508.1 109.1 1517.8 111.7 1527.4 115C1532.3 116.6 1537.2 118.3 1542 120.2C1547 122.3 1552 124.5 1556.7 127.1C1561.7 129.8 1566.6 132.7 1571.3 136C1576.3 139.6 1581.2 143.4 1585.5 147.9C1588.3 151 1591.1 154.1 1593.3 157.7C1594.9 160.5 1596.5 163.4 1597.4 166.6C1598 168.7 1598.5 170.9 1598.6 173.1C1598.6 175.6 1598.2 178 1597.6 180.4C1596.9 183.4 1595.6 186.3 1594.2 189.1C1592.3 192.7 1589.9 196 1587.5 199.3C1584.9 202.9 1581.9 206.3 1579 209.7C1575.8 213.7 1572.4 217.6 1569.1 221.5C1565.4 225.9 1561.8 230.5 1558.1 234.8C1554.1 239.3 1550.1 243.8 1545.8 248C1541.2 252.7 1536.3 257 1531.4 261.3C1526.6 265.4 1521.7 269.3 1516.8 273.1C1512 276.9 1507 280.4 1502.2 284.1C1497.3 287.7 1492.4 291.3 1487.6 295C1482.7 298.9 1477.9 302.8 1473.2 306.9C1468.7 310.8 1464.5 315 1460 319C1457.7 321 1455.3 323 1452.9 325C1446 330.6 1438.7 335.6 1431.3 340.6C1426.5 343.9 1421.6 347 1416.8 350C1412 353.1 1407.1 356 1402.3 359C1397.4 362.1 1392.6 365.3 1387.6 368.4C1382.7 371.4 1377.9 374.6 1372.8 377.5C1370.4 378.9 1368 380.2 1365.5 381.5L1364 385.9C1376 386 1388 386.2 1400 386.3C1406.7 386.4 1413.3 386.4 1420 386.5C1422.3 386.5 1424.7 386.5 1427 386.6C1428.4 386.7 1429.9 386.7 1431.3 386.9C1433.8 387.3 1436.5 388 1438.6 389.4C1440.3 390.5 1441.8 392.1 1443 393.8C1444.2 395.4 1445 397.3 1445.7 399.2C1446.8 402.2 1447 405.4 1447.2 408.5C1447.5 412.4 1447.1 416.3 1446.7 420.2C1446.2 425.6 1445 430.9 1444 436.2C1442.9 441.6 1441.7 446.9 1440.4 452.2C1439.8 454.6 1439.2 457 1438.6 459.4C1437.1 465.2 1435.7 471.1 1434.2 476.9C1432.4 483.7 1430.4 490.5 1428.4 497.3C1426.5 503.6 1424.6 509.9 1422.6 516.2C1421 521.3 1419.2 526.4 1417.5 531.5L1417.5 560L979.5 560L979.5 -12.5L1036 -12.5L1046 0Z"/><path d="M1043 0C1045.1 2.5 1047.3 5 1049.7 7.3C1052.4 9.8 1055.4 12.1 1058.5 14.3C1063 17.3 1067.9 19.7 1072.8 22.1C1077.5 24.5 1082.4 26.6 1087.3 28.6C1092.2 30.6 1097.1 32.4 1102 34.1C1106.8 35.7 1111.7 37.1 1116.6 38.5C1121.5 39.9 1126.4 40.9 1131.2 42.2C1136 43.5 1140.8 44.8 1145.6 46.3C1150.5 48 1155.4 49.9 1160.3 51.7C1165.2 53.5 1170.1 55.6 1175 57.3C1179.8 59 1184.6 60.6 1189.5 62C1194.3 63.4 1199.1 64.5 1204 65.6C1208.8 66.7 1213.7 67.5 1218.6 68.4C1223.4 69.2 1228.3 69.9 1233.1 70.7C1235.4 71.1 1237.7 71.5 1240 71.8C1249.7 73.4 1259.4 74.9 1269.1 76.1C1278.8 77.3 1288.6 78.2 1298.3 79C1308 79.8 1317.7 80.3 1327.4 80.9C1337.1 81.5 1346.9 82 1356.6 82.7C1366.3 83.4 1376 84.2 1385.7 85.1C1395.5 86.1 1405.2 87 1415 88.3C1423.3 89.4 1431.6 90.6 1439.9 92C1449.7 93.7 1459.4 95.7 1469.1 97.9C1478.9 100.1 1488.6 102.6 1498.3 105.2C1508.1 107.8 1517.8 110.4 1527.4 113.4C1532.3 115 1537.2 116.5 1542.1 118.3C1547 120.2 1551.9 122.2 1556.7 124.5C1561.7 126.9 1566.6 129.5 1571.2 132.4C1576.3 135.7 1581.3 139.2 1585.6 143.4C1588.3 146 1590.9 148.8 1593.1 151.9C1595.4 155.1 1597.4 158.5 1599 162.1C1600 164.4 1601.1 166.6 1601.6 169C1601.8 170.3 1602 171.7 1602 173.1C1602 175.6 1601.4 178 1600.7 180.4C1599.9 183.4 1598.5 186.3 1597.1 189.1C1595.2 192.7 1592.8 196 1590.4 199.3C1587.7 202.9 1584.7 206.2 1581.9 209.7C1578.6 213.6 1575.4 217.6 1572.2 221.7C1568.9 226 1565.8 230.5 1562.4 234.8C1559.4 238.5 1556.4 242.3 1553.1 245.8C1548.6 250.8 1543.7 255.4 1538.7 259.9C1533.9 264.1 1529 268.2 1524 272.2C1519.2 275.9 1514.4 279.5 1509.5 283.1C1504.6 286.7 1499.6 290.2 1494.8 293.9C1490 297.6 1485.2 301.3 1480.6 305.3C1475.6 309.5 1471 314.2 1466.1 318.5C1464.1 320.4 1462 322.2 1459.9 324C1453.2 329.7 1445.9 334.9 1438.6 339.9C1433.8 343.2 1428.9 346.3 1424 349.4C1419.2 352.4 1414.3 355.2 1409.6 358.2C1404.6 361.3 1399.7 364.4 1394.9 367.6C1390 371 1385.1 374.3 1380.4 377.9C1379.3 378.7 1378.2 379.6 1377.1 380.4L1379.8 385.9C1382.5 386 1385.3 386.1 1388 386.2C1389.7 386.3 1391.3 386.3 1393 386.5C1396 386.9 1399.2 387.2 1401.8 388.8C1403.8 390.1 1405.6 391.8 1406.9 393.9C1408.5 396.5 1408.9 399.7 1409.1 402.7C1409.3 406.7 1407.8 410.5 1406.9 414.4C1405.6 419.8 1403.6 425.1 1401.8 430.4C1400 435.8 1397.9 441.1 1395.9 446.4C1393.7 452.3 1391.2 458.1 1389.4 464.2C1388.7 466.5 1388.3 468.8 1387.6 471C1385.8 477 1383 482.8 1380.3 488.5C1377.7 494 1374.5 499.2 1371.6 504.6C1368.7 509.9 1365.7 515.2 1362.8 520.6C1360.8 524.2 1358.9 527.9 1357 531.5L1357 560L979.5 560L979.5 -12.5L1033 -12.5L1043 0Z"/><path d="M979.5 29.9C986.3 32.7 993.1 35.5 1000 37.9C1004.8 39.6 1009.7 40.9 1014.5 42.6C1019.4 44.3 1024.3 46.2 1029.1 48.1C1034 49.9 1038.8 52 1043.7 53.8C1048.6 55.6 1053.4 57.4 1058.3 59C1063.1 60.6 1068 62.1 1072.9 63.4C1077.7 64.8 1082.5 66 1087.4 67C1092.2 68.1 1097.1 69.1 1102 70C1106.9 70.8 1111.7 71.5 1116.6 72.2C1121.4 72.8 1126.3 73.4 1131.2 73.9C1136 74.4 1140.9 74.9 1145.7 75.3C1150.6 75.8 1155.4 76.1 1160.3 76.5C1170 77.3 1179.8 78 1189.5 78.7C1199.2 79.4 1208.9 80 1218.6 80.7C1225.7 81.2 1232.9 81.6 1240 82.1C1249.7 82.8 1259.4 83.6 1269.1 84.5C1278.9 85.4 1288.6 86.4 1298.3 87.6C1308 88.7 1317.7 90 1327.4 91.6C1337.2 93.1 1346.9 94.8 1356.6 96.8C1366.4 98.7 1376.1 100.9 1385.8 103.3C1395.6 105.7 1405.3 108.3 1414.9 111.3C1423.4 113.9 1431.9 116.4 1440 120C1445 122.1 1450 124.4 1454.7 127.2C1459.7 130.2 1464.6 133.7 1469.1 137.5C1473.3 141 1477.3 144.9 1480.8 149.1C1483.5 152.3 1486 155.7 1488.2 159.2C1490.2 162.5 1492.4 165.7 1493.4 169.4C1493.8 170.8 1494.1 172.1 1494.2 173.5C1494.3 175.9 1493.6 178.2 1493 180.4C1492.1 183.5 1490.7 186.3 1489.2 189.1C1487.4 192.7 1485 196.1 1482.7 199.4C1480 203.2 1477 206.8 1474 210.4C1470.7 214.4 1467.3 218.3 1463.9 222.1C1460 226.5 1456 230.8 1451.9 234.9C1447 240 1441.9 244.9 1436.6 249.6C1431.9 253.9 1427 258 1422.1 262.1C1417.3 266 1412.4 269.8 1407.4 273.6C1402.6 277.3 1397.6 280.8 1392.7 284.4C1388 287.9 1383.1 291.3 1378.4 295C1373.5 298.8 1368.8 302.8 1364.1 306.9C1359.6 310.8 1355.3 315.1 1350.8 319.1C1346.1 323.1 1341.5 327.2 1336.6 331C1331.9 334.7 1327 338.1 1322.1 341.4C1317.3 344.7 1312.4 347.8 1307.4 350.8C1302.6 353.8 1297.8 356.7 1292.9 359.6C1288.1 362.3 1283.2 365 1278.3 367.7C1273.5 370.3 1268.5 372.8 1263.6 375.4C1258.8 378 1253.9 380.4 1249.3 383.2C1247.8 384.1 1246.3 385.1 1244.8 386L1300 386.3C1326.7 386.3 1353.3 386.4 1380 386.5C1385.3 386.5 1390.7 386.5 1396 386.6C1397.7 386.6 1399.3 386.6 1401 386.7C1402.2 386.7 1403.5 386.8 1404.7 386.9C1408.2 387.3 1411.9 387.7 1414.9 389.6C1417.7 391.3 1419.8 394.1 1421.4 396.9C1423.1 400 1423.9 403.6 1424.4 407.1C1424.9 410.9 1424.3 414.8 1423.9 418.7C1423.4 423.6 1422.2 428.4 1421.4 433.3C1420.4 439.1 1419 444.9 1418.5 450.8C1418.3 453.7 1418.5 456.5 1418.2 459.4C1417.6 465.4 1415.3 471.1 1413.8 476.9C1412 483.7 1410 490.5 1408 497.3C1406.1 503.6 1404.1 509.9 1402.2 516.2C1400.7 521.3 1399.2 526.4 1397.8 531.5L1397.8 560L979.5 560L979.5 29.9Z"/><path d="M979.5 24.8C986.2 27.8 993 30.7 1000 32.8C1004.8 34.2 1009.7 34.9 1014.6 36.2C1019.4 37.4 1024.3 38.8 1029.1 40.2C1034 41.7 1038.9 43.4 1043.7 45.1C1048.6 46.8 1053.4 48.6 1058.3 50.3C1063.2 52 1068 53.7 1072.9 55.3C1077.7 56.9 1082.5 58.4 1087.4 59.9C1092.2 61.4 1097.1 62.8 1102 64.1C1106.8 65.4 1111.7 66.7 1116.6 67.8C1121.4 68.8 1126.3 69.8 1131.2 70.6C1136 71.4 1140.8 72 1145.7 72.6C1150.5 73.2 1155.4 73.7 1160.3 74.3C1170 75.4 1179.8 76.3 1189.5 77.2C1199.2 78.1 1208.9 78.9 1218.6 79.7C1225.7 80.2 1232.9 80.6 1240 81.1C1249.7 81.8 1259.4 82.3 1269.1 83.1C1278.8 83.9 1288.6 84.7 1298.3 85.8C1308 86.9 1317.7 88.1 1327.4 89.5C1337.2 91 1346.9 92.7 1356.6 94.6C1366.4 96.5 1376.1 98.6 1385.7 100.9C1395.5 103.2 1405.3 105.5 1415 108.2C1423.3 110.5 1431.8 112.8 1439.9 115.8C1444.9 117.6 1450 119.5 1454.8 121.9C1459.7 124.3 1464.5 127.1 1469.1 130.2C1474.2 133.7 1479.2 137.6 1483.6 141.9C1487.3 145.5 1490.7 149.4 1493.8 153.5C1496.1 156.7 1498.3 160 1500.1 163.5C1501.2 165.6 1502.5 167.7 1503.1 170C1503.4 171.1 1503.6 172.3 1503.7 173.5C1503.8 175.9 1503 178.2 1502.4 180.4C1501.5 183.4 1500.1 186.3 1498.7 189.1C1497 192.2 1495 195.1 1493 197.9C1490.2 201.7 1487.1 205.2 1484 208.7C1480.8 212.5 1477.4 216.2 1474.1 220C1470.7 223.9 1467.5 227.8 1464.1 231.7C1459.7 236.8 1455.4 242.1 1450.6 246.9C1446.2 251.4 1441.5 255.7 1436.6 259.8C1432 263.7 1427 267.3 1422.1 270.9C1417.2 274.5 1412.2 277.8 1407.3 281.5C1402.4 285.1 1397.5 288.6 1392.8 292.5C1388.1 296.5 1383.7 300.8 1379.2 305.1C1374.3 309.9 1369.8 315.2 1364.8 320C1360.4 324.2 1356 328.3 1351.3 332C1346.6 335.7 1341.7 339 1336.7 342.3C1331.9 345.5 1326.9 348.5 1322 351.5C1317.2 354.5 1312.3 357.4 1307.4 360.3C1302.6 363.2 1297.7 366 1292.9 368.9C1288 371.9 1283 374.5 1278.5 378.1C1277.7 378.7 1277 379.3 1276.2 380L1278.5 385.7C1292.3 385.9 1306.2 386 1320 386.1C1327.3 386.1 1334.7 386.1 1342 386.2C1344.3 386.2 1346.7 386.2 1349 386.3C1350.6 386.3 1352.1 386.4 1353.7 386.5C1357.6 386.8 1361.7 387.1 1365.3 388.8C1368 390 1370.7 391.6 1372.6 393.9C1374.6 396.4 1375.7 399.6 1376.3 402.7C1377 406.5 1376 410.5 1375.5 414.4C1374.8 419.8 1373.3 425.1 1371.9 430.4C1370.4 435.8 1368.7 441.1 1366.8 446.4C1365.8 449.3 1364.6 452.1 1363.6 455C1362.3 458.9 1361.2 462.8 1359.9 466.7C1358.1 472.1 1356.3 477.5 1354.1 482.7C1351.9 487.7 1349.5 492.6 1346.8 497.3C1343.7 502.8 1340 508 1336.6 513.3C1332.7 519.4 1328.8 525.4 1324.9 531.5L1324.9 560L979.5 560L979.5 24.8Z"/></clipPath>
<g clip-path="url(#regB)"><path d="M1166.77 -8.27L987.02 184.06M1290.49 -6.02L984.25 321.66M1420.06 -9.79L987.33 453.23M1544.66 -6.19L1025.39 549.44M1676.00 -10.63L1156.73 545.00M1709.47 89.13L1283.40 545.02" stroke="#7f8b99" stroke-width="2.0" stroke-linecap="round" stroke-dasharray="0 9.75" fill="none"/></g>
<path d="M1007.6 -12.7L1101.9 551.5L1178.4 551.5L1083.3 -12.7Z" fill="#4b3c3c" fill-opacity="0.3" stroke="#4a4040" stroke-width="0.9"/>
<path d="M1059.6 -12.7L1154.4 551.5L1231.9 551.5L1136.2 -12.7Z" fill="#645fff" fill-opacity="0.35" stroke="#6a5cf0" stroke-width="0.9"/>
<rect x="980" y="-10" width="104.7" height="570" fill="#aa0000" fill-opacity="0.3"/>
</g>
<text class="g i" x="1264.2" y="40.1">l</text><text class="g i" x="1270.8" y="43.9" style="font-size:17.5px">N</text><text class="g" x="1284.0" y="40.1" textLength="13.6" lengthAdjust="spacingAndGlyphs">=</text><text class="g" x="1298.0" y="40.1">0.1</text><text class="g" x="1333.9" y="40.1">mm</text>
<text class="g" x="1380.2" y="69">1 mm</text>
<text class="g" x="1496" y="76.5">1 cm</text>
<text class="g" x="1601" y="98.8">10 cm</text>
<text class="g" x="1452.5" y="389.6">1 m</text>
<text class="w" x="1453.2" y="186.7">5</text><text class="w i" x="1466" y="186.7" textLength="18.6" lengthAdjust="spacingAndGlyphs">σ</text>
<text class="w" x="1560" y="186.7" style="fill:#000">3</text><text class="w i" x="1573" y="186.7" textLength="18.6" lengthAdjust="spacingAndGlyphs" style="fill:#000">σ</text>
<text class="ws" x="1035.3" y="274">jj</text>
<text class="ws" x="1113.5" y="521.3">Ge</text>
<text class="ws" x="1185.3" y="521.3">Xe</text>
<text class="ws" x="1079.5" y="43" style="font-size:23px">0</text><text class="ws i" x="1091.2" y="43" style="font-size:23px" textLength="11" lengthAdjust="spacingAndGlyphs">ν</text><text class="ws" x="1109" y="43" style="font-size:23px">2</text><text class="ws i" x="1120.6" y="43" style="font-size:23px" textLength="13.4" lengthAdjust="spacingAndGlyphs">β</text>
<path d="M1010.5 531.5v-5.5M1099.8 531.5v-5.5M1163.2 531.5v-3.1M1212.4 531.5v-5.5M1252.6 531.5v-3.1M1286.6 531.5v-3.1M1316 531.5v-3.1M1342 531.5v-3.1M1365.2 531.5v-5.5M1405.4 531.5v-3.1M1439.4 531.5v-3.1M1468.8 531.5v-3.1M1494.8 531.5v-3.1M1518 531.5v-5.5M1539 531.5v-3.1M1558.2 531.5v-3.1M1575.8 531.5v-3.1M1592.1 531.5v-3.1M1607.3 531.5v-5.5M1621.6 531.5v-3.1M1634.9 531.5v-3.1M1647.5 531.5v-3.1M1659.4 531.5v-3.1M1670.7 531.5v-5.5M1681.5 531.5v-3.1M1691.8 531.5v-3.1M999.5 515.6h3.1M1696.5 515.6h-3.1M999.5 472.2h3.1M1696.5 472.2h-3.1M999.5 433.9h3.1M1696.5 433.9h-3.1M999.5 399.7h5.5M1696.5 399.7h-5.5M999.5 368.7h3.1M1696.5 368.7h-3.1M999.5 340.4h3.1M1696.5 340.4h-3.1M999.5 314.4h3.1M1696.5 314.4h-3.1M999.5 290.3h3.1M1696.5 290.3h-3.1M999.5 267.9h5.5M1696.5 267.9h-5.5M999.5 246.9h3.1M1696.5 246.9h-3.1M999.5 227.2h3.1M1696.5 227.2h-3.1M999.5 208.6h3.1M1696.5 208.6h-3.1M999.5 191h3.1M1696.5 191h-3.1M999.5 174.3h5.5M1696.5 174.3h-5.5M999.5 158.5h3.1M1696.5 158.5h-3.1M999.5 143.3h3.1M1696.5 143.3h-3.1M999.5 128.9h3.1M1696.5 128.9h-3.1M999.5 115.1h3.1M1696.5 115.1h-3.1M999.5 101.8h5.5M1696.5 101.8h-5.5M999.5 89h3.1M1696.5 89h-3.1M999.5 76.8h3.1M1696.5 76.8h-3.1M999.5 64.9h3.1M1696.5 64.9h-3.1M999.5 53.5h3.1M1696.5 53.5h-3.1M999.5 42.5h5.5M1696.5 42.5h-5.5M999.5 31.8h3.1M1696.5 31.8h-3.1M999.5 21.5h3.1M1696.5 21.5h-3.1M999.5 11.5h3.1M1696.5 11.5h-3.1" stroke="#4a4a4a" stroke-width="0.9" fill="none"/>
<text class="pl" x="911.2" y="34.1">B</text>
<text x="992.5" y="539.3" text-anchor="end">40</text>
<text x="1702.5" y="539.3">13</text>
<text x="992.5" y="407.5" text-anchor="end">60</text>
<text x="1702.5" y="407.5">20</text>
<text x="992.5" y="275.7" text-anchor="end">90</text>
<text x="1702.5" y="275.7">30</text>
<text x="992.5" y="182.1" text-anchor="end">120</text>
<text x="1702.5" y="182.1">40</text>
<text x="992.5" y="109.6" text-anchor="end">150</text>
<text x="1702.5" y="109.6">50</text>
<text x="992.5" y="50.3" text-anchor="end">180</text>
<text x="1702.5" y="50.3">60</text>
<text x="1010.5" y="560.5" text-anchor="middle">2</text>
<text x="1099.8" y="560.5" text-anchor="middle">3</text>
<text x="1212.4" y="560.5" text-anchor="middle">5</text>
<text x="1365.2" y="560.5" text-anchor="middle">10</text>
<text x="1518.0" y="560.5" text-anchor="middle">20</text>
<text x="1607.3" y="560.5" text-anchor="middle">30</text>
<text x="1670.7" y="560.5" text-anchor="middle">40</text>
<text class="al" x="1273.2" y="603.8"><tspan class="i">M</tspan><tspan class="i" dy="4.9" style="font-size:19.5px">W</tspan><tspan class="i" dy="3.7" dx="0.8" style="font-size:15.5px">R</tspan><tspan dy="-8.6" dx="11.2">in TeV</tspan></text>
<text class="al" transform="translate(928.3 337.5) rotate(-90)"><tspan class="i">m</tspan><tspan dy="6" style="font-size:22px">Δ</tspan><tspan dy="-6" dx="5.8">in GeV</tspan></text>
<text class="al" transform="translate(1767.5 343.5) rotate(-90)"><tspan class="i">m</tspan><tspan class="i" dy="5.5" style="font-size:21.5px">N</tspan><tspan class="i" dy="5" dx="-0.5" style="font-size:17px">e</tspan><tspan dy="-10.5" dx="11.3">in GeV</tspan></text>
<rect x="1506.2" y="336.5" width="185.9" height="187.0" fill="#fff" stroke="#1a1a1a" stroke-width="1.2"/>
<text class="lg" x="1600.8" y="365.9" text-anchor="middle" style="fill:#b3600f">Electrons</text>
<path d="M1518.3 401.6l3 -1.9l5.8 14.2l10.4 -26.5h17.2" fill="none" stroke="#000" stroke-width="1.2" stroke-linejoin="miter"/>
<path d="M1521.5 400.0l5.6 13.6" fill="none" stroke="#000" stroke-width="2.2"/>
<text class="lg" x="1538.6" y="411.6"><tspan class="i" style="font-size:26px">s</tspan></text>
<text class="lg" x="1557.2" y="411.6" textLength="14.6" lengthAdjust="spacingAndGlyphs">=</text>
<text class="lg" x="1573.6" y="411.6">13 TeV</text>
<text class="lg" x="1528.6" y="449.0" textLength="19" lengthAdjust="spacingAndGlyphs" style="font-size:26px;stroke:#000;stroke-width:0.5px">ℒ</text>
<text class="lg" x="1553.8" y="449.0" textLength="14.6" lengthAdjust="spacingAndGlyphs">=</text>
<text class="lg" x="1576.5" y="449.0">100 fb<tspan dy="-10" style="font-size:17px">−1</tspan></text>
<text class="lg" x="1531.3" y="481.7"><tspan class="i">s</tspan><tspan class="i" dy="6" style="font-size:17px">θ</tspan></text>
<text class="lg" x="1553.8" y="481.7" textLength="14.6" lengthAdjust="spacingAndGlyphs">=</text>
<text class="lg" x="1620.6" y="481.7" text-anchor="end">5%</text>
<text class="lg" x="1620.4" y="513.8" text-anchor="end">10%</text>
<path d="M1631.4 472.5h51" stroke="#b3600f" stroke-width="1" stroke-dasharray="6.8 4.6" fill="none"/>
<path d="M1631.4 508.5h51" stroke="#b3600f" stroke-width="1" fill="none"/>
</g>
</svg>
</body>
</html>
